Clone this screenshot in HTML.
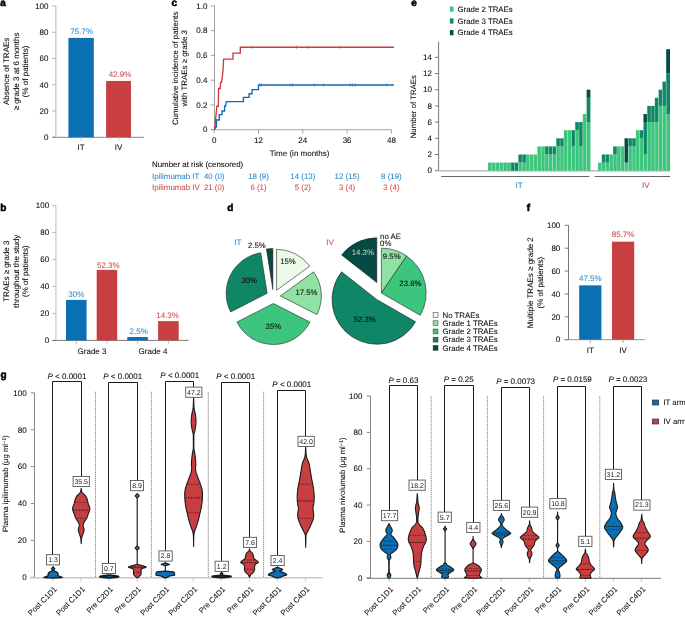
<!DOCTYPE html>
<html><head><meta charset="utf-8"><style>
html,body{margin:0;padding:0;background:#fff;}
svg{display:block;font-family:"Liberation Sans", sans-serif;will-change:transform;filter:blur(0.3px);text-rendering:geometricPrecision;}
</style></head><body>
<svg width="685" height="617" viewBox="0 0 685 617">
<text x="0.30" y="5.50" font-size="10" font-weight="bold" fill="#000" stroke="#000" stroke-width="0.55">a</text>
<text x="0.30" y="210.90" font-size="10" font-weight="bold" fill="#000" stroke="#000" stroke-width="0.55">b</text>
<text x="171.40" y="5.70" font-size="10" font-weight="bold" fill="#000" stroke="#000" stroke-width="0.55">c</text>
<text x="227.30" y="210.90" font-size="10" font-weight="bold" fill="#000" stroke="#000" stroke-width="0.55">d</text>
<text x="411.30" y="5.60" font-size="10" font-weight="bold" fill="#000" stroke="#000" stroke-width="0.55">e</text>
<text x="526.80" y="210.90" font-size="10" font-weight="bold" fill="#000" stroke="#000" stroke-width="0.55">f</text>
<text x="0.50" y="378.20" font-size="10" font-weight="bold" fill="#000" stroke="#000" stroke-width="0.55">g</text>
<line x1="55.90" y1="6.00" x2="55.90" y2="137.30" stroke="#a0a0a0" stroke-width="0.8" />
<line x1="52.20" y1="6.00" x2="55.90" y2="6.00" stroke="#a0a0a0" stroke-width="0.8" />
<text x="48.50" y="8.75" font-size="8" text-anchor="end" fill="#0a0a0a" stroke="#0a0a0a" stroke-width="0.07" >100</text>
<line x1="52.20" y1="32.26" x2="55.90" y2="32.26" stroke="#a0a0a0" stroke-width="0.8" />
<text x="48.50" y="35.01" font-size="8" text-anchor="end" fill="#0a0a0a" stroke="#0a0a0a" stroke-width="0.07" >80</text>
<line x1="52.20" y1="58.52" x2="55.90" y2="58.52" stroke="#a0a0a0" stroke-width="0.8" />
<text x="48.50" y="61.27" font-size="8" text-anchor="end" fill="#0a0a0a" stroke="#0a0a0a" stroke-width="0.07" >60</text>
<line x1="52.20" y1="84.78" x2="55.90" y2="84.78" stroke="#a0a0a0" stroke-width="0.8" />
<text x="48.50" y="87.53" font-size="8" text-anchor="end" fill="#0a0a0a" stroke="#0a0a0a" stroke-width="0.07" >40</text>
<line x1="52.20" y1="111.04" x2="55.90" y2="111.04" stroke="#a0a0a0" stroke-width="0.8" />
<text x="48.50" y="113.79" font-size="8" text-anchor="end" fill="#0a0a0a" stroke="#0a0a0a" stroke-width="0.07" >20</text>
<line x1="52.20" y1="137.30" x2="55.90" y2="137.30" stroke="#a0a0a0" stroke-width="0.8" />
<text x="48.50" y="140.05" font-size="8" text-anchor="end" fill="#0a0a0a" stroke="#0a0a0a" stroke-width="0.07" >0</text>
<line x1="52.20" y1="137.30" x2="143.90" y2="137.30" stroke="#7a7a7a" stroke-width="0.9" />
<rect x="68.40" y="37.91" width="25.40" height="99.39" fill="#0b6fb3" />
<rect x="106.10" y="80.97" width="24.90" height="56.33" fill="#c83e41" />
<line x1="81.10" y1="137.30" x2="81.10" y2="140.60" stroke="#bbb" stroke-width="0.8" />
<line x1="118.60" y1="137.30" x2="118.60" y2="140.60" stroke="#bbb" stroke-width="0.8" />
<text x="81.10" y="149.95" font-size="8" text-anchor="middle" fill="#0a0a0a" stroke="#0a0a0a" stroke-width="0.07" >IT</text>
<text x="118.60" y="149.95" font-size="8" text-anchor="middle" fill="#0a0a0a" stroke="#0a0a0a" stroke-width="0.07" >IV</text>
<text x="81.70" y="34.15" font-size="8" text-anchor="middle" fill="#2b8ccc" stroke="#2b8ccc" stroke-width="0.07" >75.7%</text>
<text x="120.00" y="77.35" font-size="8" text-anchor="middle" fill="#d04d4e" stroke="#d04d4e" stroke-width="0.07" >42.9%</text>
<g transform="translate(16.40,71.40) rotate(-90)">
<text x="0" y="-7.59" font-size="8" text-anchor="middle" fill="#0a0a0a" stroke="#0a0a0a" stroke-width="0.07">Absence of TRAEs</text>
<text x="0" y="2.11" font-size="8" text-anchor="middle" fill="#0a0a0a" stroke="#0a0a0a" stroke-width="0.07">≥ grade 3 at 6 months</text>
<text x="0" y="11.81" font-size="8" text-anchor="middle" fill="#0a0a0a" stroke="#0a0a0a" stroke-width="0.07">(% of patients)</text>
</g>
<line x1="55.90" y1="205.50" x2="55.90" y2="340.40" stroke="#b0b0b0" stroke-width="0.8" />
<line x1="52.20" y1="205.50" x2="55.90" y2="205.50" stroke="#b0b0b0" stroke-width="0.8" />
<text x="49.10" y="208.25" font-size="8" text-anchor="end" fill="#0a0a0a" stroke="#0a0a0a" stroke-width="0.07" >100</text>
<line x1="52.20" y1="232.48" x2="55.90" y2="232.48" stroke="#b0b0b0" stroke-width="0.8" />
<text x="49.10" y="235.23" font-size="8" text-anchor="end" fill="#0a0a0a" stroke="#0a0a0a" stroke-width="0.07" >80</text>
<line x1="52.20" y1="259.46" x2="55.90" y2="259.46" stroke="#b0b0b0" stroke-width="0.8" />
<text x="49.10" y="262.21" font-size="8" text-anchor="end" fill="#0a0a0a" stroke="#0a0a0a" stroke-width="0.07" >60</text>
<line x1="52.20" y1="286.44" x2="55.90" y2="286.44" stroke="#b0b0b0" stroke-width="0.8" />
<text x="49.10" y="289.19" font-size="8" text-anchor="end" fill="#0a0a0a" stroke="#0a0a0a" stroke-width="0.07" >40</text>
<line x1="52.20" y1="313.42" x2="55.90" y2="313.42" stroke="#b0b0b0" stroke-width="0.8" />
<text x="49.10" y="316.17" font-size="8" text-anchor="end" fill="#0a0a0a" stroke="#0a0a0a" stroke-width="0.07" >20</text>
<line x1="52.20" y1="340.40" x2="55.90" y2="340.40" stroke="#b0b0b0" stroke-width="0.8" />
<text x="49.10" y="343.15" font-size="8" text-anchor="end" fill="#0a0a0a" stroke="#0a0a0a" stroke-width="0.07" >0</text>
<line x1="52.20" y1="340.40" x2="188.60" y2="340.40" stroke="#6a6a6a" stroke-width="0.9" />
<rect x="66.00" y="299.93" width="20.60" height="40.47" fill="#0b6fb3" />
<line x1="76.30" y1="340.40" x2="76.30" y2="343.60" stroke="#999" stroke-width="0.8" />
<rect x="96.70" y="269.85" width="20.50" height="70.55" fill="#c83e41" />
<line x1="106.95" y1="340.40" x2="106.95" y2="343.60" stroke="#999" stroke-width="0.8" />
<rect x="127.30" y="337.03" width="20.60" height="3.37" fill="#0b6fb3" />
<line x1="137.60" y1="340.40" x2="137.60" y2="343.60" stroke="#999" stroke-width="0.8" />
<rect x="158.10" y="321.11" width="20.60" height="19.29" fill="#c83e41" />
<line x1="168.40" y1="340.40" x2="168.40" y2="343.60" stroke="#999" stroke-width="0.8" />
<text x="92.00" y="353.75" font-size="8" text-anchor="middle" fill="#0a0a0a" stroke="#0a0a0a" stroke-width="0.07" >Grade 3</text>
<text x="153.00" y="353.75" font-size="8" text-anchor="middle" fill="#0a0a0a" stroke="#0a0a0a" stroke-width="0.07" >Grade 4</text>
<text x="76.30" y="297.05" font-size="8" text-anchor="middle" fill="#2b8ccc" stroke="#2b8ccc" stroke-width="0.07" >30%</text>
<text x="108.30" y="267.75" font-size="8" text-anchor="middle" fill="#d04d4e" stroke="#d04d4e" stroke-width="0.07" >52.3%</text>
<text x="138.70" y="334.25" font-size="8" text-anchor="middle" fill="#2b8ccc" stroke="#2b8ccc" stroke-width="0.07" >2.5%</text>
<text x="167.60" y="318.05" font-size="8" text-anchor="middle" fill="#d04d4e" stroke="#d04d4e" stroke-width="0.07" >14.3%</text>
<g transform="translate(16.40,271.20) rotate(-90)">
<text x="0" y="-7.49" font-size="8" text-anchor="middle" fill="#0a0a0a" stroke="#0a0a0a" stroke-width="0.07">TRAEs ≥ grade 3</text>
<text x="0" y="2.11" font-size="8" text-anchor="middle" fill="#0a0a0a" stroke="#0a0a0a" stroke-width="0.07">throughout the study</text>
<text x="0" y="11.71" font-size="8" text-anchor="middle" fill="#0a0a0a" stroke="#0a0a0a" stroke-width="0.07">(% of patients)</text>
</g>
<line x1="214.50" y1="5.90" x2="214.50" y2="129.70" stroke="#8a8a8a" stroke-width="0.8" />
<line x1="210.80" y1="5.90" x2="214.50" y2="5.90" stroke="#8a8a8a" stroke-width="0.8" />
<text x="207.40" y="8.65" font-size="8" text-anchor="end" fill="#0a0a0a" stroke="#0a0a0a" stroke-width="0.07" >1.0</text>
<line x1="210.80" y1="30.66" x2="214.50" y2="30.66" stroke="#8a8a8a" stroke-width="0.8" />
<text x="207.40" y="33.41" font-size="8" text-anchor="end" fill="#0a0a0a" stroke="#0a0a0a" stroke-width="0.07" >0.8</text>
<line x1="210.80" y1="55.42" x2="214.50" y2="55.42" stroke="#8a8a8a" stroke-width="0.8" />
<text x="207.40" y="58.17" font-size="8" text-anchor="end" fill="#0a0a0a" stroke="#0a0a0a" stroke-width="0.07" >0.6</text>
<line x1="210.80" y1="80.18" x2="214.50" y2="80.18" stroke="#8a8a8a" stroke-width="0.8" />
<text x="207.40" y="82.93" font-size="8" text-anchor="end" fill="#0a0a0a" stroke="#0a0a0a" stroke-width="0.07" >0.4</text>
<line x1="210.80" y1="104.94" x2="214.50" y2="104.94" stroke="#8a8a8a" stroke-width="0.8" />
<text x="207.40" y="107.69" font-size="8" text-anchor="end" fill="#0a0a0a" stroke="#0a0a0a" stroke-width="0.07" >0.2</text>
<line x1="210.80" y1="129.70" x2="214.50" y2="129.70" stroke="#8a8a8a" stroke-width="0.8" />
<text x="207.40" y="132.45" font-size="8" text-anchor="end" fill="#0a0a0a" stroke="#0a0a0a" stroke-width="0.07" >0</text>
<line x1="210.80" y1="129.70" x2="391.40" y2="129.70" stroke="#8a8a8a" stroke-width="0.8" />
<line x1="214.20" y1="129.70" x2="214.20" y2="133.40" stroke="#8a8a8a" stroke-width="0.8" />
<text x="214.20" y="143.35" font-size="8" text-anchor="middle" fill="#0a0a0a" stroke="#0a0a0a" stroke-width="0.07" >0</text>
<line x1="258.50" y1="129.70" x2="258.50" y2="133.40" stroke="#8a8a8a" stroke-width="0.8" />
<text x="258.50" y="143.35" font-size="8" text-anchor="middle" fill="#0a0a0a" stroke="#0a0a0a" stroke-width="0.07" >12</text>
<line x1="302.80" y1="129.70" x2="302.80" y2="133.40" stroke="#8a8a8a" stroke-width="0.8" />
<text x="302.80" y="143.35" font-size="8" text-anchor="middle" fill="#0a0a0a" stroke="#0a0a0a" stroke-width="0.07" >24</text>
<line x1="347.10" y1="129.70" x2="347.10" y2="133.40" stroke="#8a8a8a" stroke-width="0.8" />
<text x="347.10" y="143.35" font-size="8" text-anchor="middle" fill="#0a0a0a" stroke="#0a0a0a" stroke-width="0.07" >36</text>
<line x1="391.40" y1="129.70" x2="391.40" y2="133.40" stroke="#8a8a8a" stroke-width="0.8" />
<text x="391.40" y="143.35" font-size="8" text-anchor="middle" fill="#0a0a0a" stroke="#0a0a0a" stroke-width="0.07" >48</text>
<text x="299.60" y="156.05" font-size="8" text-anchor="middle" fill="#0a0a0a" stroke="#0a0a0a" stroke-width="0.07" >Time (in months)</text>
<g transform="translate(180.40,68.30) rotate(-90)">
<text x="0" y="-2.81" font-size="7.9" text-anchor="middle" fill="#0a0a0a" stroke="#0a0a0a" stroke-width="0.07">Cumulative incidence of patients</text>
<text x="0" y="6.99" font-size="7.9" text-anchor="middle" fill="#0a0a0a" stroke="#0a0a0a" stroke-width="0.07">with TRAEs ≥ grade 3</text>
</g>
<polyline fill="none" stroke="#cc3a40" stroke-width="1.35" stroke-linejoin="miter" points="214.60,129.60 216.90,106.20 218.30,106.20 218.60,88.50 220.20,88.50 220.50,82.40 221.60,82.40 223.00,70.80 223.60,59.10 233.00,59.10 233.00,53.10 240.30,53.10 240.30,47.20 394.00,47.20"/>
<polyline fill="none" stroke="#1467b3" stroke-width="1.35" stroke-linejoin="miter" points="214.60,129.60 215.60,127.00 216.40,127.00 216.40,120.00 219.20,120.00 219.20,114.60 222.00,114.60 222.00,111.00 224.60,111.00 224.60,106.00 225.60,106.00 226.30,101.60 243.40,101.60 243.40,97.40 249.10,97.40 249.10,93.70 252.00,93.70 252.00,89.60 258.50,89.60 258.50,85.00 394.00,85.00"/>
<line x1="251.70" y1="45.60" x2="251.70" y2="48.80" stroke="#cc3a40" stroke-width="0.6" />
<line x1="296.50" y1="45.60" x2="296.50" y2="48.80" stroke="#cc3a40" stroke-width="0.6" />
<line x1="307.80" y1="45.60" x2="307.80" y2="48.80" stroke="#cc3a40" stroke-width="0.6" />
<line x1="339.30" y1="45.60" x2="339.30" y2="48.80" stroke="#cc3a40" stroke-width="0.6" />
<line x1="259.90" y1="83.40" x2="259.90" y2="86.60" stroke="#1467b3" stroke-width="0.6" />
<line x1="261.50" y1="83.40" x2="261.50" y2="86.60" stroke="#1467b3" stroke-width="0.6" />
<line x1="290.20" y1="83.40" x2="290.20" y2="86.60" stroke="#1467b3" stroke-width="0.6" />
<line x1="292.60" y1="83.40" x2="292.60" y2="86.60" stroke="#1467b3" stroke-width="0.6" />
<line x1="314.30" y1="83.40" x2="314.30" y2="86.60" stroke="#1467b3" stroke-width="0.6" />
<line x1="323.40" y1="83.40" x2="323.40" y2="86.60" stroke="#1467b3" stroke-width="0.6" />
<line x1="350.30" y1="83.40" x2="350.30" y2="86.60" stroke="#1467b3" stroke-width="0.6" />
<line x1="352.60" y1="83.40" x2="352.60" y2="86.60" stroke="#1467b3" stroke-width="0.6" />
<line x1="355.20" y1="83.40" x2="355.20" y2="86.60" stroke="#1467b3" stroke-width="0.6" />
<line x1="386.70" y1="83.40" x2="386.70" y2="86.60" stroke="#1467b3" stroke-width="0.6" />
<text x="152.00" y="167.42" font-size="7.9" text-anchor="start" fill="#0a0a0a" stroke="#0a0a0a" stroke-width="0.07" >Number at risk (censored)</text>
<text x="152.00" y="178.62" font-size="7.9" text-anchor="start" fill="#2b8ccc" stroke="#2b8ccc" stroke-width="0.07" >Ipilimumab IT</text>
<text x="152.00" y="189.52" font-size="7.9" text-anchor="start" fill="#d04d4e" stroke="#d04d4e" stroke-width="0.07" >Ipilimumab IV</text>
<text x="214.20" y="178.62" font-size="7.9" text-anchor="middle" fill="#2b8ccc" stroke="#2b8ccc" stroke-width="0.07" >40 (0)</text>
<text x="258.50" y="178.62" font-size="7.9" text-anchor="middle" fill="#2b8ccc" stroke="#2b8ccc" stroke-width="0.07" >18 (9)</text>
<text x="302.80" y="178.62" font-size="7.9" text-anchor="middle" fill="#2b8ccc" stroke="#2b8ccc" stroke-width="0.07" >14 (13)</text>
<text x="347.10" y="178.62" font-size="7.9" text-anchor="middle" fill="#2b8ccc" stroke="#2b8ccc" stroke-width="0.07" >12 (15)</text>
<text x="391.40" y="178.62" font-size="7.9" text-anchor="middle" fill="#2b8ccc" stroke="#2b8ccc" stroke-width="0.07" >8 (19)</text>
<text x="214.20" y="189.52" font-size="7.9" text-anchor="middle" fill="#d04d4e" stroke="#d04d4e" stroke-width="0.07" >21 (0)</text>
<text x="258.50" y="189.52" font-size="7.9" text-anchor="middle" fill="#d04d4e" stroke="#d04d4e" stroke-width="0.07" >6 (1)</text>
<text x="302.80" y="189.52" font-size="7.9" text-anchor="middle" fill="#d04d4e" stroke="#d04d4e" stroke-width="0.07" >5 (2)</text>
<text x="347.10" y="189.52" font-size="7.9" text-anchor="middle" fill="#d04d4e" stroke="#d04d4e" stroke-width="0.07" >3 (4)</text>
<text x="391.40" y="189.52" font-size="7.9" text-anchor="middle" fill="#d04d4e" stroke="#d04d4e" stroke-width="0.07" >3 (4)</text>
<rect x="449.90" y="6.50" width="3.60" height="5.20" fill="#3cc57d" />
<text x="457.50" y="11.80" font-size="7.85" text-anchor="start" fill="#0a0a0a" stroke="#0a0a0a" stroke-width="0.07" >Grade 2 TRAEs</text>
<rect x="449.90" y="18.40" width="3.60" height="5.20" fill="#0f8767" />
<text x="457.50" y="23.70" font-size="7.85" text-anchor="start" fill="#0a0a0a" stroke="#0a0a0a" stroke-width="0.07" >Grade 3 TRAEs</text>
<rect x="449.90" y="30.10" width="3.60" height="5.20" fill="#054a43" />
<text x="457.50" y="35.40" font-size="7.85" text-anchor="start" fill="#0a0a0a" stroke="#0a0a0a" stroke-width="0.07" >Grade 4 TRAEs</text>
<line x1="438.60" y1="41.60" x2="438.60" y2="170.70" stroke="#555" stroke-width="0.8" />
<line x1="435.00" y1="170.70" x2="438.60" y2="170.70" stroke="#555" stroke-width="0.8" />
<text x="432.00" y="173.45" font-size="8" text-anchor="end" fill="#0a0a0a" stroke="#0a0a0a" stroke-width="0.07" >0</text>
<line x1="435.00" y1="154.50" x2="438.60" y2="154.50" stroke="#555" stroke-width="0.8" />
<text x="432.00" y="157.25" font-size="8" text-anchor="end" fill="#0a0a0a" stroke="#0a0a0a" stroke-width="0.07" >2</text>
<line x1="435.00" y1="138.30" x2="438.60" y2="138.30" stroke="#555" stroke-width="0.8" />
<text x="432.00" y="141.05" font-size="8" text-anchor="end" fill="#0a0a0a" stroke="#0a0a0a" stroke-width="0.07" >4</text>
<line x1="435.00" y1="122.10" x2="438.60" y2="122.10" stroke="#555" stroke-width="0.8" />
<text x="432.00" y="124.85" font-size="8" text-anchor="end" fill="#0a0a0a" stroke="#0a0a0a" stroke-width="0.07" >6</text>
<line x1="435.00" y1="105.90" x2="438.60" y2="105.90" stroke="#555" stroke-width="0.8" />
<text x="432.00" y="108.65" font-size="8" text-anchor="end" fill="#0a0a0a" stroke="#0a0a0a" stroke-width="0.07" >8</text>
<line x1="435.00" y1="89.70" x2="438.60" y2="89.70" stroke="#555" stroke-width="0.8" />
<text x="432.00" y="92.45" font-size="8" text-anchor="end" fill="#0a0a0a" stroke="#0a0a0a" stroke-width="0.07" >10</text>
<line x1="435.00" y1="73.50" x2="438.60" y2="73.50" stroke="#555" stroke-width="0.8" />
<text x="432.00" y="76.25" font-size="8" text-anchor="end" fill="#0a0a0a" stroke="#0a0a0a" stroke-width="0.07" >12</text>
<line x1="435.00" y1="57.30" x2="438.60" y2="57.30" stroke="#555" stroke-width="0.8" />
<text x="432.00" y="60.05" font-size="8" text-anchor="end" fill="#0a0a0a" stroke="#0a0a0a" stroke-width="0.07" >14</text>
<g transform="translate(414.40,106.70) rotate(-90)">
<text x="0" y="2.06" font-size="7.8" text-anchor="middle" fill="#0a0a0a" stroke="#0a0a0a" stroke-width="0.07">Number of TRAEs</text>
</g>
<rect x="438.80" y="170.00" width="231.20" height="1.60" fill="#bdbdbd" />
<rect x="488.07" y="162.60" width="3.79" height="8.10" fill="#3cc57d" />
<rect x="491.86" y="162.60" width="3.79" height="8.10" fill="#3cc57d" />
<rect x="495.65" y="162.60" width="3.79" height="8.10" fill="#3cc57d" />
<rect x="499.44" y="162.60" width="3.79" height="8.10" fill="#3cc57d" />
<rect x="503.23" y="162.60" width="3.79" height="8.10" fill="#3cc57d" />
<rect x="507.02" y="162.60" width="3.79" height="8.10" fill="#3cc57d" />
<rect x="510.81" y="162.60" width="3.79" height="8.10" fill="#0f8767" />
<rect x="514.60" y="162.60" width="3.79" height="8.10" fill="#0f8767" />
<rect x="518.39" y="162.60" width="3.79" height="8.10" fill="#3cc57d" />
<rect x="518.39" y="154.50" width="3.79" height="8.10" fill="#0f8767" />
<rect x="522.18" y="162.60" width="3.79" height="8.10" fill="#3cc57d" />
<rect x="522.18" y="154.50" width="3.79" height="8.10" fill="#0f8767" />
<rect x="525.97" y="154.50" width="3.79" height="16.20" fill="#3cc57d" />
<rect x="529.76" y="154.50" width="3.79" height="16.20" fill="#3cc57d" />
<rect x="533.55" y="154.50" width="3.79" height="16.20" fill="#3cc57d" />
<rect x="537.34" y="146.40" width="3.79" height="24.30" fill="#3cc57d" />
<rect x="541.13" y="146.40" width="3.79" height="24.30" fill="#3cc57d" />
<rect x="544.92" y="154.50" width="3.79" height="16.20" fill="#3cc57d" />
<rect x="544.92" y="146.40" width="3.79" height="8.10" fill="#0f8767" />
<rect x="548.71" y="154.50" width="3.79" height="16.20" fill="#3cc57d" />
<rect x="548.71" y="146.40" width="3.79" height="8.10" fill="#0f8767" />
<rect x="552.50" y="154.50" width="3.79" height="16.20" fill="#3cc57d" />
<rect x="552.50" y="146.40" width="3.79" height="8.10" fill="#0f8767" />
<rect x="556.30" y="146.40" width="3.79" height="24.30" fill="#3cc57d" />
<rect x="556.30" y="138.30" width="3.79" height="8.10" fill="#0f8767" />
<rect x="560.09" y="146.40" width="3.79" height="24.30" fill="#3cc57d" />
<rect x="560.09" y="138.30" width="3.79" height="8.10" fill="#0f8767" />
<rect x="563.88" y="130.20" width="3.79" height="40.50" fill="#3cc57d" />
<rect x="567.67" y="130.20" width="3.79" height="40.50" fill="#3cc57d" />
<rect x="571.46" y="146.40" width="3.79" height="24.30" fill="#3cc57d" />
<rect x="571.46" y="130.20" width="3.79" height="16.20" fill="#0f8767" />
<rect x="575.25" y="130.20" width="3.79" height="40.50" fill="#3cc57d" />
<rect x="575.25" y="122.10" width="3.79" height="8.10" fill="#0f8767" />
<rect x="579.04" y="146.40" width="3.79" height="24.30" fill="#3cc57d" />
<rect x="579.04" y="122.10" width="3.79" height="24.30" fill="#0f8767" />
<rect x="582.83" y="114.00" width="3.79" height="56.70" fill="#3cc57d" />
<rect x="586.62" y="122.10" width="3.79" height="48.60" fill="#3cc57d" />
<rect x="586.62" y="97.80" width="3.79" height="24.30" fill="#0f8767" />
<rect x="586.62" y="89.70" width="3.79" height="8.10" fill="#054a43" />
<rect x="597.99" y="162.60" width="3.79" height="8.10" fill="#3cc57d" />
<rect x="601.78" y="162.60" width="3.79" height="8.10" fill="#3cc57d" />
<rect x="601.78" y="154.50" width="3.79" height="8.10" fill="#0f8767" />
<rect x="605.57" y="162.60" width="3.79" height="8.10" fill="#3cc57d" />
<rect x="605.57" y="154.50" width="3.79" height="8.10" fill="#0f8767" />
<rect x="609.36" y="154.50" width="3.79" height="16.20" fill="#3cc57d" />
<rect x="613.15" y="154.50" width="3.79" height="16.20" fill="#3cc57d" />
<rect x="613.15" y="146.40" width="3.79" height="8.10" fill="#0f8767" />
<rect x="616.94" y="146.40" width="3.79" height="24.30" fill="#3cc57d" />
<rect x="620.73" y="146.40" width="3.79" height="24.30" fill="#3cc57d" />
<rect x="624.52" y="162.60" width="3.79" height="8.10" fill="#3cc57d" />
<rect x="624.52" y="138.30" width="3.79" height="24.30" fill="#054a43" />
<rect x="628.31" y="146.40" width="3.79" height="24.30" fill="#3cc57d" />
<rect x="628.31" y="138.30" width="3.79" height="8.10" fill="#0f8767" />
<rect x="632.10" y="146.40" width="3.79" height="24.30" fill="#3cc57d" />
<rect x="632.10" y="138.30" width="3.79" height="8.10" fill="#0f8767" />
<rect x="635.89" y="130.20" width="3.79" height="40.50" fill="#3cc57d" />
<rect x="639.68" y="138.30" width="3.79" height="32.40" fill="#3cc57d" />
<rect x="639.68" y="130.20" width="3.79" height="8.10" fill="#0f8767" />
<rect x="643.47" y="154.50" width="3.79" height="16.20" fill="#3cc57d" />
<rect x="643.47" y="122.10" width="3.79" height="32.40" fill="#0f8767" />
<rect x="643.47" y="114.00" width="3.79" height="8.10" fill="#054a43" />
<rect x="647.26" y="122.10" width="3.79" height="48.60" fill="#3cc57d" />
<rect x="647.26" y="105.90" width="3.79" height="16.20" fill="#0f8767" />
<rect x="651.05" y="122.10" width="3.79" height="48.60" fill="#3cc57d" />
<rect x="651.05" y="105.90" width="3.79" height="16.20" fill="#0f8767" />
<rect x="654.84" y="122.10" width="3.79" height="48.60" fill="#3cc57d" />
<rect x="654.84" y="97.80" width="3.79" height="24.30" fill="#0f8767" />
<rect x="658.63" y="105.90" width="3.79" height="64.80" fill="#3cc57d" />
<rect x="658.63" y="89.70" width="3.79" height="16.20" fill="#0f8767" />
<rect x="662.42" y="105.90" width="3.79" height="64.80" fill="#3cc57d" />
<rect x="662.42" y="81.60" width="3.79" height="24.30" fill="#0f8767" />
<rect x="666.21" y="114.00" width="3.79" height="56.70" fill="#3cc57d" />
<rect x="666.21" y="73.50" width="3.79" height="40.50" fill="#0f8767" />
<rect x="666.21" y="49.20" width="3.79" height="24.30" fill="#054a43" />
<line x1="488.07" y1="170.70" x2="488.07" y2="170.70" stroke="#ffffff" stroke-width="0.45" stroke-opacity="0.6"/>
<line x1="491.86" y1="170.70" x2="491.86" y2="162.60" stroke="#ffffff" stroke-width="0.45" stroke-opacity="0.6"/>
<line x1="495.65" y1="170.70" x2="495.65" y2="162.60" stroke="#ffffff" stroke-width="0.45" stroke-opacity="0.6"/>
<line x1="499.44" y1="170.70" x2="499.44" y2="162.60" stroke="#ffffff" stroke-width="0.45" stroke-opacity="0.6"/>
<line x1="503.23" y1="170.70" x2="503.23" y2="162.60" stroke="#ffffff" stroke-width="0.45" stroke-opacity="0.6"/>
<line x1="507.02" y1="170.70" x2="507.02" y2="162.60" stroke="#ffffff" stroke-width="0.45" stroke-opacity="0.6"/>
<line x1="510.81" y1="170.70" x2="510.81" y2="162.60" stroke="#ffffff" stroke-width="0.45" stroke-opacity="0.6"/>
<line x1="514.60" y1="170.70" x2="514.60" y2="162.60" stroke="#ffffff" stroke-width="0.45" stroke-opacity="0.6"/>
<line x1="518.39" y1="170.70" x2="518.39" y2="162.60" stroke="#ffffff" stroke-width="0.45" stroke-opacity="0.6"/>
<line x1="522.18" y1="170.70" x2="522.18" y2="154.50" stroke="#ffffff" stroke-width="0.45" stroke-opacity="0.6"/>
<line x1="525.97" y1="170.70" x2="525.97" y2="154.50" stroke="#ffffff" stroke-width="0.45" stroke-opacity="0.6"/>
<line x1="529.76" y1="170.70" x2="529.76" y2="154.50" stroke="#ffffff" stroke-width="0.45" stroke-opacity="0.6"/>
<line x1="533.55" y1="170.70" x2="533.55" y2="154.50" stroke="#ffffff" stroke-width="0.45" stroke-opacity="0.6"/>
<line x1="537.34" y1="170.70" x2="537.34" y2="154.50" stroke="#ffffff" stroke-width="0.45" stroke-opacity="0.6"/>
<line x1="541.13" y1="170.70" x2="541.13" y2="146.40" stroke="#ffffff" stroke-width="0.45" stroke-opacity="0.6"/>
<line x1="544.92" y1="170.70" x2="544.92" y2="146.40" stroke="#ffffff" stroke-width="0.45" stroke-opacity="0.6"/>
<line x1="548.71" y1="170.70" x2="548.71" y2="146.40" stroke="#ffffff" stroke-width="0.45" stroke-opacity="0.6"/>
<line x1="552.50" y1="170.70" x2="552.50" y2="146.40" stroke="#ffffff" stroke-width="0.45" stroke-opacity="0.6"/>
<line x1="556.30" y1="170.70" x2="556.30" y2="146.40" stroke="#ffffff" stroke-width="0.45" stroke-opacity="0.6"/>
<line x1="560.09" y1="170.70" x2="560.09" y2="138.30" stroke="#ffffff" stroke-width="0.45" stroke-opacity="0.6"/>
<line x1="563.88" y1="170.70" x2="563.88" y2="138.30" stroke="#ffffff" stroke-width="0.45" stroke-opacity="0.6"/>
<line x1="567.67" y1="170.70" x2="567.67" y2="130.20" stroke="#ffffff" stroke-width="0.45" stroke-opacity="0.6"/>
<line x1="571.46" y1="170.70" x2="571.46" y2="130.20" stroke="#ffffff" stroke-width="0.45" stroke-opacity="0.6"/>
<line x1="575.25" y1="170.70" x2="575.25" y2="130.20" stroke="#ffffff" stroke-width="0.45" stroke-opacity="0.6"/>
<line x1="579.04" y1="170.70" x2="579.04" y2="122.10" stroke="#ffffff" stroke-width="0.45" stroke-opacity="0.6"/>
<line x1="582.83" y1="170.70" x2="582.83" y2="122.10" stroke="#ffffff" stroke-width="0.45" stroke-opacity="0.6"/>
<line x1="586.62" y1="170.70" x2="586.62" y2="114.00" stroke="#ffffff" stroke-width="0.45" stroke-opacity="0.6"/>
<line x1="590.41" y1="170.70" x2="590.41" y2="170.70" stroke="#ffffff" stroke-width="0.45" stroke-opacity="0.6"/>
<line x1="597.99" y1="170.70" x2="597.99" y2="170.70" stroke="#ffffff" stroke-width="0.45" stroke-opacity="0.6"/>
<line x1="601.78" y1="170.70" x2="601.78" y2="162.60" stroke="#ffffff" stroke-width="0.45" stroke-opacity="0.6"/>
<line x1="605.57" y1="170.70" x2="605.57" y2="154.50" stroke="#ffffff" stroke-width="0.45" stroke-opacity="0.6"/>
<line x1="609.36" y1="170.70" x2="609.36" y2="154.50" stroke="#ffffff" stroke-width="0.45" stroke-opacity="0.6"/>
<line x1="613.15" y1="170.70" x2="613.15" y2="154.50" stroke="#ffffff" stroke-width="0.45" stroke-opacity="0.6"/>
<line x1="616.94" y1="170.70" x2="616.94" y2="146.40" stroke="#ffffff" stroke-width="0.45" stroke-opacity="0.6"/>
<line x1="620.73" y1="170.70" x2="620.73" y2="146.40" stroke="#ffffff" stroke-width="0.45" stroke-opacity="0.6"/>
<line x1="624.52" y1="170.70" x2="624.52" y2="146.40" stroke="#ffffff" stroke-width="0.45" stroke-opacity="0.6"/>
<line x1="628.31" y1="170.70" x2="628.31" y2="138.30" stroke="#ffffff" stroke-width="0.45" stroke-opacity="0.6"/>
<line x1="632.10" y1="170.70" x2="632.10" y2="138.30" stroke="#ffffff" stroke-width="0.45" stroke-opacity="0.6"/>
<line x1="635.89" y1="170.70" x2="635.89" y2="138.30" stroke="#ffffff" stroke-width="0.45" stroke-opacity="0.6"/>
<line x1="639.68" y1="170.70" x2="639.68" y2="130.20" stroke="#ffffff" stroke-width="0.45" stroke-opacity="0.6"/>
<line x1="643.47" y1="170.70" x2="643.47" y2="130.20" stroke="#ffffff" stroke-width="0.45" stroke-opacity="0.6"/>
<line x1="647.26" y1="170.70" x2="647.26" y2="114.00" stroke="#ffffff" stroke-width="0.45" stroke-opacity="0.6"/>
<line x1="651.05" y1="170.70" x2="651.05" y2="105.90" stroke="#ffffff" stroke-width="0.45" stroke-opacity="0.6"/>
<line x1="654.84" y1="170.70" x2="654.84" y2="105.90" stroke="#ffffff" stroke-width="0.45" stroke-opacity="0.6"/>
<line x1="658.63" y1="170.70" x2="658.63" y2="97.80" stroke="#ffffff" stroke-width="0.45" stroke-opacity="0.6"/>
<line x1="662.42" y1="170.70" x2="662.42" y2="89.70" stroke="#ffffff" stroke-width="0.45" stroke-opacity="0.6"/>
<line x1="666.21" y1="170.70" x2="666.21" y2="81.60" stroke="#ffffff" stroke-width="0.45" stroke-opacity="0.6"/>
<line x1="441.20" y1="176.50" x2="589.30" y2="176.50" stroke="#555" stroke-width="0.9" />
<line x1="594.60" y1="176.50" x2="670.10" y2="176.50" stroke="#555" stroke-width="0.9" />
<text x="519.00" y="187.55" font-size="8" text-anchor="middle" fill="#2b8ccc" stroke="#2b8ccc" stroke-width="0.07" >IT</text>
<text x="645.90" y="187.55" font-size="8" text-anchor="middle" fill="#d04d4e" stroke="#d04d4e" stroke-width="0.07" >IV</text>
<path d="M276.58,290.26 L276.58,249.26 A41,41 0 0 1 309.75,266.16 Z" fill="#ebfbe7" stroke="#222" stroke-width="0.6" stroke-linejoin="round"/>
<path d="M280.38,295.95 L313.55,271.85 A41,41 0 0 1 316.91,314.56 Z" fill="#8fe1a4" stroke="#222" stroke-width="0.6" stroke-linejoin="round"/>
<path d="M273.40,303.50 L309.93,322.11 A41,41 0 0 1 236.87,322.11 Z" fill="#3cc57d" stroke="#222" stroke-width="0.6" stroke-linejoin="round"/>
<path d="M267.16,293.32 L230.63,311.94 A41,41 0 0 1 260.75,252.83 Z" fill="#0f8767" stroke="#222" stroke-width="0.6" stroke-linejoin="round"/>
<path d="M272.85,289.52 L266.44,249.03 A41,41 0 0 1 272.85,248.52 Z" fill="#054a43" stroke="#222" stroke-width="0.6" stroke-linejoin="round"/>
<path d="M381.40,293.00 L381.40,248.20 A44.8,44.8 0 0 1 406.58,255.95 Z" fill="#8fe1a4" stroke="#222" stroke-width="0.6" stroke-linejoin="round"/>
<path d="M381.40,293.00 L406.58,255.95 A44.8,44.8 0 0 1 420.24,315.33 Z" fill="#3cc57d" stroke="#222" stroke-width="0.6" stroke-linejoin="round"/>
<path d="M376.80,299.50 L415.64,321.83 A44.8,44.8 0 1 1 341.59,271.80 Z" fill="#0f8767" stroke="#222" stroke-width="0.6" stroke-linejoin="round"/>
<path d="M376.80,282.60 L341.59,254.90 A44.8,44.8 0 0 1 376.80,237.80 Z" fill="#054a43" stroke="#222" stroke-width="0.6" stroke-linejoin="round"/>
<text x="288.00" y="264.18" font-size="7.8" text-anchor="middle" fill="#0a0a0a" stroke="#0a0a0a" stroke-width="0.07" >15%</text>
<text x="306.50" y="295.28" font-size="7.8" text-anchor="middle" fill="#0a0a0a" stroke="#0a0a0a" stroke-width="0.07" >17.5%</text>
<text x="273.40" y="328.68" font-size="7.8" text-anchor="middle" fill="#0a0a0a" stroke="#0a0a0a" stroke-width="0.07" >35%</text>
<text x="249.20" y="282.68" font-size="7.8" text-anchor="middle" fill="#0a0a0a" stroke="#0a0a0a" stroke-width="0.07" >30%</text>
<text x="256.90" y="247.68" font-size="7.8" text-anchor="middle" fill="#0a0a0a" stroke="#0a0a0a" stroke-width="0.07" >2.5%</text>
<text x="237.90" y="244.95" font-size="8" text-anchor="middle" fill="#2b8ccc" stroke="#2b8ccc" stroke-width="0.07" >IT</text>
<text x="391.70" y="259.38" font-size="7.8" text-anchor="middle" fill="#0a0a0a" stroke="#0a0a0a" stroke-width="0.07" >9.5%</text>
<text x="410.40" y="286.18" font-size="7.8" text-anchor="middle" fill="#0a0a0a" stroke="#0a0a0a" stroke-width="0.07" >23.8%</text>
<text x="364.70" y="322.18" font-size="7.8" text-anchor="middle" fill="#0a0a0a" stroke="#0a0a0a" stroke-width="0.07" >52.3%</text>
<text x="362.80" y="254.58" font-size="7.8" text-anchor="middle" fill="#b5cdc7" stroke="#b5cdc7" stroke-width="0.07" >14.3%</text>
<text x="380.10" y="238.98" font-size="7.8" text-anchor="start" fill="#0a0a0a" stroke="#0a0a0a" stroke-width="0.07" >no AE</text>
<text x="380.10" y="246.28" font-size="7.8" text-anchor="start" fill="#0a0a0a" stroke="#0a0a0a" stroke-width="0.07" >0%</text>
<text x="330.10" y="245.25" font-size="8" text-anchor="middle" fill="#d04d4e" stroke="#d04d4e" stroke-width="0.07" >IV</text>
<rect x="433.10" y="312.60" width="4.90" height="4.90" fill="#ebfbe7" stroke="#333" stroke-width="0.5"/>
<text x="442.50" y="317.80" font-size="7.85" text-anchor="start" fill="#0a0a0a" stroke="#0a0a0a" stroke-width="0.07" >No TRAEs</text>
<rect x="433.10" y="320.80" width="4.90" height="4.90" fill="#8fe1a4" stroke="#333" stroke-width="0.5"/>
<text x="442.50" y="326.00" font-size="7.85" text-anchor="start" fill="#0a0a0a" stroke="#0a0a0a" stroke-width="0.07" >Grade 1 TRAEs</text>
<rect x="433.10" y="329.00" width="4.90" height="4.90" fill="#3cc57d" stroke="#333" stroke-width="0.5"/>
<text x="442.50" y="334.20" font-size="7.85" text-anchor="start" fill="#0a0a0a" stroke="#0a0a0a" stroke-width="0.07" >Grade 2 TRAEs</text>
<rect x="433.10" y="337.20" width="4.90" height="4.90" fill="#0f8767" stroke="#333" stroke-width="0.5"/>
<text x="442.50" y="342.40" font-size="7.85" text-anchor="start" fill="#0a0a0a" stroke="#0a0a0a" stroke-width="0.07" >Grade 3 TRAEs</text>
<rect x="433.10" y="345.40" width="4.90" height="4.90" fill="#054a43" stroke="#333" stroke-width="0.5"/>
<text x="442.50" y="350.60" font-size="7.85" text-anchor="start" fill="#0a0a0a" stroke="#0a0a0a" stroke-width="0.07" >Grade 4 TRAEs</text>
<line x1="568.50" y1="225.30" x2="568.50" y2="339.70" stroke="#555" stroke-width="0.8" />
<line x1="564.80" y1="225.30" x2="568.50" y2="225.30" stroke="#555" stroke-width="0.8" />
<text x="560.30" y="228.05" font-size="8" text-anchor="end" fill="#0a0a0a" stroke="#0a0a0a" stroke-width="0.07" >100</text>
<line x1="564.80" y1="248.18" x2="568.50" y2="248.18" stroke="#555" stroke-width="0.8" />
<text x="560.30" y="250.93" font-size="8" text-anchor="end" fill="#0a0a0a" stroke="#0a0a0a" stroke-width="0.07" >80</text>
<line x1="564.80" y1="271.06" x2="568.50" y2="271.06" stroke="#555" stroke-width="0.8" />
<text x="560.30" y="273.81" font-size="8" text-anchor="end" fill="#0a0a0a" stroke="#0a0a0a" stroke-width="0.07" >60</text>
<line x1="564.80" y1="293.94" x2="568.50" y2="293.94" stroke="#555" stroke-width="0.8" />
<text x="560.30" y="296.69" font-size="8" text-anchor="end" fill="#0a0a0a" stroke="#0a0a0a" stroke-width="0.07" >40</text>
<line x1="564.80" y1="316.82" x2="568.50" y2="316.82" stroke="#555" stroke-width="0.8" />
<text x="560.30" y="319.57" font-size="8" text-anchor="end" fill="#0a0a0a" stroke="#0a0a0a" stroke-width="0.07" >20</text>
<line x1="564.80" y1="339.70" x2="568.50" y2="339.70" stroke="#555" stroke-width="0.8" />
<text x="560.30" y="342.45" font-size="8" text-anchor="end" fill="#0a0a0a" stroke="#0a0a0a" stroke-width="0.07" >0</text>
<line x1="564.30" y1="339.70" x2="645.00" y2="339.70" stroke="#8a8a8a" stroke-width="0.9" />
<rect x="579.20" y="285.36" width="22.20" height="54.34" fill="#0b6fb3" />
<rect x="612.00" y="241.66" width="22.20" height="98.04" fill="#c83e41" />
<line x1="590.30" y1="339.70" x2="590.30" y2="343.00" stroke="#999" stroke-width="0.8" />
<line x1="623.10" y1="339.70" x2="623.10" y2="343.00" stroke="#999" stroke-width="0.8" />
<text x="590.30" y="353.45" font-size="8" text-anchor="middle" fill="#0a0a0a" stroke="#0a0a0a" stroke-width="0.07" >IT</text>
<text x="623.10" y="353.45" font-size="8" text-anchor="middle" fill="#0a0a0a" stroke="#0a0a0a" stroke-width="0.07" >IV</text>
<text x="590.30" y="280.65" font-size="8" text-anchor="middle" fill="#2b8ccc" stroke="#2b8ccc" stroke-width="0.07" >47.5%</text>
<text x="623.10" y="237.05" font-size="8" text-anchor="middle" fill="#d04d4e" stroke="#d04d4e" stroke-width="0.07" >85.7%</text>
<g transform="translate(535.50,282.70) rotate(-90)">
<text x="0" y="-2.89" font-size="8" text-anchor="middle" fill="#0a0a0a" stroke="#0a0a0a" stroke-width="0.07">Multiple TRAEs ≥ grade 2</text>
<text x="0" y="7.11" font-size="8" text-anchor="middle" fill="#0a0a0a" stroke="#0a0a0a" stroke-width="0.07">(% of patients)</text>
</g>
<line x1="34.50" y1="392.90" x2="34.50" y2="577.30" stroke="#888" stroke-width="1" />
<line x1="30.80" y1="392.90" x2="34.50" y2="392.90" stroke="#888" stroke-width="1" />
<text x="26.60" y="395.65" font-size="8" text-anchor="end" fill="#0a0a0a" stroke="#0a0a0a" stroke-width="0.07" >100</text>
<line x1="30.80" y1="429.78" x2="34.50" y2="429.78" stroke="#888" stroke-width="1" />
<text x="26.60" y="432.53" font-size="8" text-anchor="end" fill="#0a0a0a" stroke="#0a0a0a" stroke-width="0.07" >80</text>
<line x1="30.80" y1="466.66" x2="34.50" y2="466.66" stroke="#888" stroke-width="1" />
<text x="26.60" y="469.41" font-size="8" text-anchor="end" fill="#0a0a0a" stroke="#0a0a0a" stroke-width="0.07" >60</text>
<line x1="30.80" y1="503.54" x2="34.50" y2="503.54" stroke="#888" stroke-width="1" />
<text x="26.60" y="506.29" font-size="8" text-anchor="end" fill="#0a0a0a" stroke="#0a0a0a" stroke-width="0.07" >40</text>
<line x1="30.80" y1="540.42" x2="34.50" y2="540.42" stroke="#888" stroke-width="1" />
<text x="26.60" y="543.17" font-size="8" text-anchor="end" fill="#0a0a0a" stroke="#0a0a0a" stroke-width="0.07" >20</text>
<line x1="30.80" y1="577.30" x2="34.50" y2="577.30" stroke="#888" stroke-width="1" />
<text x="26.60" y="580.05" font-size="8" text-anchor="end" fill="#0a0a0a" stroke="#0a0a0a" stroke-width="0.07" >0</text>
<line x1="29.80" y1="577.80" x2="322.60" y2="577.80" stroke="#c8c8c8" stroke-width="1.5" />
<line x1="52.86" y1="578.50" x2="52.86" y2="581.60" stroke="#bbb" stroke-width="0.8" />
<line x1="80.94" y1="578.50" x2="80.94" y2="581.60" stroke="#bbb" stroke-width="0.8" />
<line x1="109.03" y1="578.50" x2="109.03" y2="581.60" stroke="#bbb" stroke-width="0.8" />
<line x1="137.11" y1="578.50" x2="137.11" y2="581.60" stroke="#bbb" stroke-width="0.8" />
<line x1="165.19" y1="578.50" x2="165.19" y2="581.60" stroke="#bbb" stroke-width="0.8" />
<line x1="193.27" y1="578.50" x2="193.27" y2="581.60" stroke="#bbb" stroke-width="0.8" />
<line x1="221.36" y1="578.50" x2="221.36" y2="581.60" stroke="#bbb" stroke-width="0.8" />
<line x1="249.44" y1="578.50" x2="249.44" y2="581.60" stroke="#bbb" stroke-width="0.8" />
<line x1="277.52" y1="578.50" x2="277.52" y2="581.60" stroke="#bbb" stroke-width="0.8" />
<line x1="305.61" y1="578.50" x2="305.61" y2="581.60" stroke="#bbb" stroke-width="0.8" />
<line x1="95.50" y1="391.80" x2="95.50" y2="577.00" stroke="#333" stroke-width="0.8" stroke-dasharray="0.9,1.1"/>
<line x1="151.40" y1="391.80" x2="151.40" y2="577.00" stroke="#333" stroke-width="0.8" stroke-dasharray="0.9,1.1"/>
<line x1="208.30" y1="391.80" x2="208.30" y2="577.00" stroke="#333" stroke-width="0.8" stroke-dasharray="0.9,1.1"/>
<line x1="263.60" y1="391.80" x2="263.60" y2="577.00" stroke="#333" stroke-width="0.8" stroke-dasharray="0.9,1.1"/>
<polyline fill="none" stroke="#1a1a1a" stroke-width="1" points="52.50,554.50 52.50,381.50 81.50,381.50 81.50,476.70"/>
<text x="67.00" y="379.05" font-size="8" text-anchor="middle" fill="#0a0a0a" stroke="#0a0a0a" stroke-width="0.07" ><tspan font-style="italic">P</tspan> &lt; 0.0001</text>
<polyline fill="none" stroke="#1a1a1a" stroke-width="1" points="108.50,563.30 108.50,382.50 137.50,382.50 137.50,480.80"/>
<text x="122.75" y="379.05" font-size="8" text-anchor="middle" fill="#0a0a0a" stroke="#0a0a0a" stroke-width="0.07" ><tspan font-style="italic">P</tspan> &lt; 0.0001</text>
<polyline fill="none" stroke="#1a1a1a" stroke-width="1" points="165.50,550.80 165.50,381.50 193.50,381.50 193.50,387.10"/>
<text x="179.80" y="378.35" font-size="8" text-anchor="middle" fill="#0a0a0a" stroke="#0a0a0a" stroke-width="0.07" ><tspan font-style="italic">P</tspan> &lt; 0.0001</text>
<polyline fill="none" stroke="#1a1a1a" stroke-width="1" points="221.50,561.10 221.50,382.50 249.50,382.50 249.50,537.10"/>
<text x="235.75" y="379.15" font-size="8" text-anchor="middle" fill="#0a0a0a" stroke="#0a0a0a" stroke-width="0.07" ><tspan font-style="italic">P</tspan> &lt; 0.0001</text>
<polyline fill="none" stroke="#1a1a1a" stroke-width="1" points="277.50,555.20 277.50,390.50 305.50,390.50 305.50,436.20"/>
<text x="291.80" y="387.45" font-size="8" text-anchor="middle" fill="#0a0a0a" stroke="#0a0a0a" stroke-width="0.07" ><tspan font-style="italic">P</tspan> &lt; 0.0001</text>
<line x1="53.10" y1="566.20" x2="53.10" y2="570.80" stroke="#111" stroke-width="1.1" />
<polygon points="53.10,567.00 53.20,567.09 53.35,567.21 53.52,567.35 53.70,567.50 53.88,567.66 54.04,567.80 54.19,567.93 54.36,568.07 54.52,568.20 54.66,568.33 54.76,568.47 54.80,568.60 54.76,568.73 54.66,568.87 54.52,569.00 54.36,569.13 54.19,569.27 54.04,569.40 53.88,569.54 53.70,569.70 53.52,569.85 53.35,569.99 53.20,570.11 53.10,570.20 53.10,570.20 53.00,570.11 52.85,569.99 52.68,569.85 52.50,569.70 52.32,569.54 52.16,569.40 52.01,569.27 51.84,569.13 51.68,569.00 51.54,568.87 51.44,568.73 51.40,568.60 51.44,568.47 51.54,568.33 51.68,568.20 51.84,568.07 52.01,567.93 52.16,567.80 52.32,567.66 52.50,567.50 52.68,567.35 52.85,567.21 53.00,567.09 53.10,567.00" fill="#0b6fb3" stroke="#1a1a1a" stroke-width="1.1" stroke-linejoin="round"/>
<polygon points="53.10,570.30 53.15,570.32 53.20,570.35 53.27,570.38 53.37,570.43 53.51,570.50 53.70,570.60 53.97,570.73 54.30,570.90 54.67,571.09 55.06,571.29 55.44,571.50 55.80,571.70 56.15,571.90 56.51,572.11 56.86,572.33 57.19,572.54 57.48,572.77 57.70,573.00 57.84,573.24 57.91,573.50 57.94,573.76 57.95,574.01 57.96,574.27 58.00,574.50 58.04,574.72 58.06,574.93 58.08,575.12 58.12,575.32 58.22,575.51 58.40,575.70 58.69,575.89 59.07,576.09 59.51,576.28 59.95,576.46 60.36,576.64 60.70,576.80 61.07,576.96 61.52,577.10 61.94,577.24 62.20,577.37 62.20,577.49 61.80,577.60 60.82,577.69 59.30,577.78 57.52,577.85 55.72,577.91 54.16,577.96 53.10,578.00 53.10,578.00 52.04,577.96 50.48,577.91 48.68,577.85 46.90,577.78 45.38,577.69 44.40,577.60 44.00,577.49 44.00,577.37 44.26,577.24 44.68,577.10 45.13,576.96 45.50,576.80 45.84,576.64 46.25,576.46 46.69,576.28 47.13,576.09 47.51,575.89 47.80,575.70 47.98,575.51 48.08,575.32 48.12,575.12 48.14,574.93 48.16,574.72 48.20,574.50 48.24,574.27 48.25,574.01 48.26,573.76 48.29,573.50 48.36,573.24 48.50,573.00 48.72,572.77 49.01,572.54 49.34,572.33 49.69,572.11 50.05,571.90 50.40,571.70 50.76,571.50 51.14,571.29 51.53,571.09 51.90,570.90 52.23,570.73 52.50,570.60 52.69,570.50 52.83,570.43 52.93,570.38 53.00,570.35 53.05,570.32 53.10,570.30" fill="#0b6fb3" stroke="#1a1a1a" stroke-width="1.35" stroke-linejoin="round"/>
<polygon points="81.20,488.40 81.24,488.63 81.29,488.94 81.36,489.31 81.43,489.71 81.51,490.12 81.60,490.50 81.67,490.85 81.72,491.19 81.78,491.53 81.87,491.89 82.04,492.27 82.30,492.70 82.71,493.18 83.24,493.69 83.84,494.24 84.46,494.80 85.03,495.36 85.50,495.90 85.87,496.42 86.17,496.93 86.43,497.43 86.66,497.95 86.88,498.50 87.10,499.10 87.31,499.74 87.49,500.41 87.65,501.11 87.81,501.84 87.99,502.61 88.20,503.40 88.47,504.24 88.81,505.12 89.17,506.04 89.49,506.97 89.71,507.89 89.80,508.80 89.72,509.70 89.50,510.61 89.20,511.52 88.85,512.41 88.50,513.28 88.20,514.10 87.94,514.89 87.69,515.65 87.44,516.38 87.18,517.09 86.90,517.76 86.60,518.40 86.26,519.00 85.88,519.54 85.48,520.06 85.09,520.57 84.72,521.07 84.40,521.60 84.11,522.15 83.83,522.72 83.58,523.29 83.36,523.85 83.20,524.39 83.10,524.90 83.09,525.37 83.17,525.81 83.29,526.24 83.44,526.65 83.59,527.07 83.70,527.50 83.80,527.93 83.91,528.33 84.02,528.74 84.10,529.18 84.13,529.66 84.10,530.20 83.98,530.84 83.79,531.56 83.54,532.32 83.28,533.09 83.02,533.83 82.80,534.50 82.59,535.11 82.39,535.70 82.18,536.26 81.99,536.78 81.83,537.26 81.70,537.70 81.62,538.05 81.57,538.32 81.55,538.54 81.54,538.78 81.53,539.08 81.50,539.50 81.45,540.10 81.40,540.85 81.34,541.66 81.28,542.45 81.23,543.13 81.20,543.60 81.20,543.60 81.17,543.13 81.12,542.45 81.06,541.66 81.00,540.85 80.95,540.10 80.90,539.50 80.87,539.08 80.86,538.78 80.85,538.54 80.83,538.32 80.78,538.05 80.70,537.70 80.57,537.26 80.41,536.78 80.22,536.26 80.01,535.70 79.81,535.11 79.60,534.50 79.38,533.83 79.12,533.09 78.86,532.32 78.61,531.56 78.42,530.84 78.30,530.20 78.27,529.66 78.30,529.18 78.38,528.74 78.49,528.33 78.60,527.93 78.70,527.50 78.81,527.07 78.96,526.65 79.11,526.24 79.23,525.81 79.31,525.37 79.30,524.90 79.20,524.39 79.04,523.85 78.83,523.29 78.57,522.72 78.29,522.15 78.00,521.60 77.68,521.07 77.31,520.57 76.92,520.06 76.52,519.54 76.14,519.00 75.80,518.40 75.50,517.76 75.22,517.09 74.96,516.38 74.71,515.65 74.46,514.89 74.20,514.10 73.90,513.28 73.55,512.41 73.20,511.52 72.90,510.61 72.68,509.70 72.60,508.80 72.69,507.89 72.91,506.97 73.23,506.04 73.59,505.12 73.93,504.24 74.20,503.40 74.41,502.61 74.59,501.84 74.75,501.11 74.91,500.41 75.09,499.74 75.30,499.10 75.52,498.50 75.74,497.95 75.97,497.43 76.23,496.93 76.53,496.42 76.90,495.90 77.37,495.36 77.94,494.80 78.56,494.24 79.16,493.69 79.69,493.18 80.10,492.70 80.36,492.27 80.53,491.89 80.62,491.53 80.68,491.19 80.73,490.85 80.80,490.50 80.89,490.12 80.97,489.71 81.04,489.31 81.11,488.94 81.16,488.63 81.20,488.40" fill="#c83e41" stroke="#1a1a1a" stroke-width="1.1" stroke-linejoin="round"/>
<line x1="75.05" y1="502.40" x2="87.35" y2="502.40" stroke="#1a1a1a" stroke-width="0.7" stroke-dasharray="0.9,0.9"/>
<line x1="73.40" y1="510.20" x2="89.00" y2="510.20" stroke="#1a1a1a" stroke-width="0.9" stroke-dasharray="1.6,1"/>
<line x1="76.40" y1="518.40" x2="86.00" y2="518.40" stroke="#1a1a1a" stroke-width="0.7" stroke-dasharray="0.9,0.9"/>
<polygon points="109.20,575.10 109.70,575.16 110.39,575.25 111.20,575.36 112.07,575.47 112.93,575.59 113.70,575.70 114.43,575.81 115.20,575.94 115.94,576.06 116.64,576.19 117.24,576.30 117.70,576.40 118.04,576.48 118.29,576.55 118.44,576.61 118.50,576.67 118.45,576.73 118.30,576.80 118.03,576.88 117.65,576.96 117.16,577.04 116.59,577.12 115.93,577.21 115.20,577.30 114.30,577.40 113.19,577.51 112.01,577.63 110.86,577.74 109.89,577.83 109.20,577.90 109.20,577.90 108.51,577.83 107.54,577.74 106.39,577.63 105.21,577.51 104.10,577.40 103.20,577.30 102.47,577.21 101.81,577.12 101.24,577.04 100.75,576.96 100.37,576.88 100.10,576.80 99.95,576.73 99.90,576.67 99.96,576.61 100.11,576.55 100.36,576.48 100.70,576.40 101.16,576.30 101.76,576.19 102.46,576.06 103.20,575.94 103.97,575.81 104.70,575.70 105.47,575.59 106.33,575.47 107.20,575.36 108.01,575.25 108.70,575.16 109.20,575.10" fill="#0b6fb3" stroke="#1a1a1a" stroke-width="1.9" stroke-linejoin="round"/>
<line x1="137.20" y1="494.00" x2="137.20" y2="564.50" stroke="#111" stroke-width="1.1" />
<polygon points="137.20,493.60 137.32,493.72 137.49,493.89 137.69,494.08 137.91,494.29 138.12,494.50 138.30,494.70 138.48,494.88 138.68,495.07 138.88,495.25 139.04,495.43 139.16,495.62 139.20,495.80 139.16,495.98 139.04,496.17 138.88,496.35 138.68,496.53 138.48,496.72 138.30,496.90 138.12,497.10 137.91,497.31 137.69,497.52 137.49,497.71 137.32,497.88 137.20,498.00 137.20,498.00 137.08,497.88 136.91,497.71 136.71,497.52 136.49,497.31 136.28,497.10 136.10,496.90 135.92,496.72 135.72,496.53 135.52,496.35 135.36,496.17 135.24,495.98 135.20,495.80 135.24,495.62 135.36,495.43 135.52,495.25 135.72,495.07 135.92,494.88 136.10,494.70 136.28,494.50 136.49,494.29 136.71,494.08 136.91,493.89 137.08,493.72 137.20,493.60" fill="#c83e41" stroke="#1a1a1a" stroke-width="1.1" stroke-linejoin="round"/>
<polygon points="137.20,545.80 137.32,545.92 137.49,546.09 137.69,546.28 137.91,546.49 138.12,546.70 138.30,546.90 138.48,547.08 138.68,547.27 138.88,547.45 139.04,547.63 139.16,547.82 139.20,548.00 139.16,548.18 139.04,548.37 138.88,548.55 138.68,548.73 138.48,548.92 138.30,549.10 138.12,549.30 137.91,549.51 137.69,549.72 137.49,549.91 137.32,550.08 137.20,550.20 137.20,550.20 137.08,550.08 136.91,549.91 136.71,549.72 136.49,549.51 136.28,549.30 136.10,549.10 135.92,548.92 135.72,548.73 135.52,548.55 135.36,548.37 135.24,548.18 135.20,548.00 135.24,547.82 135.36,547.63 135.52,547.45 135.72,547.27 135.92,547.08 136.10,546.90 136.28,546.70 136.49,546.49 136.71,546.28 136.91,546.09 137.08,545.92 137.20,545.80" fill="#c83e41" stroke="#1a1a1a" stroke-width="1.1" stroke-linejoin="round"/>
<polygon points="137.30,564.10 137.39,564.15 137.50,564.21 137.63,564.29 137.81,564.38 138.07,564.48 138.40,564.60 138.84,564.73 139.36,564.88 139.95,565.04 140.59,565.21 141.24,565.40 141.90,565.60 142.66,565.83 143.55,566.08 144.47,566.34 145.29,566.61 145.91,566.87 146.20,567.10 146.08,567.31 145.63,567.49 144.98,567.67 144.23,567.84 143.53,568.02 143.00,568.20 142.61,568.39 142.27,568.57 141.96,568.75 141.70,568.94 141.48,569.16 141.30,569.40 141.18,569.68 141.11,569.98 141.09,570.31 141.10,570.64 141.10,570.98 141.10,571.30 141.09,571.62 141.09,571.95 141.10,572.27 141.11,572.60 141.11,572.91 141.10,573.20 141.09,573.47 141.09,573.73 141.08,573.98 141.06,574.21 141.00,574.45 140.90,574.70 140.75,574.95 140.56,575.21 140.33,575.47 140.09,575.72 139.84,575.97 139.60,576.20 139.35,576.42 139.09,576.64 138.82,576.86 138.56,577.06 138.31,577.24 138.10,577.40 137.92,577.54 137.75,577.67 137.61,577.77 137.48,577.87 137.38,577.94 137.30,578.00 137.30,578.00 137.22,577.94 137.12,577.87 136.99,577.77 136.85,577.67 136.68,577.54 136.50,577.40 136.29,577.24 136.04,577.06 135.78,576.86 135.51,576.64 135.25,576.42 135.00,576.20 134.76,575.97 134.51,575.72 134.27,575.47 134.04,575.21 133.85,574.95 133.70,574.70 133.60,574.45 133.54,574.21 133.52,573.98 133.51,573.73 133.51,573.47 133.50,573.20 133.49,572.91 133.49,572.60 133.50,572.27 133.51,571.95 133.51,571.62 133.50,571.30 133.50,570.98 133.50,570.64 133.51,570.31 133.49,569.98 133.42,569.68 133.30,569.40 133.12,569.16 132.90,568.94 132.64,568.75 132.33,568.57 131.99,568.39 131.60,568.20 131.07,568.02 130.37,567.84 129.62,567.67 128.97,567.49 128.52,567.31 128.40,567.10 128.69,566.87 129.31,566.61 130.13,566.34 131.05,566.08 131.94,565.83 132.70,565.60 133.36,565.40 134.01,565.21 134.65,565.04 135.24,564.88 135.76,564.73 136.20,564.60 136.53,564.48 136.79,564.38 136.97,564.29 137.10,564.21 137.21,564.15 137.30,564.10" fill="#c83e41" stroke="#1a1a1a" stroke-width="1.1" stroke-linejoin="round"/>
<line x1="129.69" y1="566.70" x2="144.91" y2="566.70" stroke="#1a1a1a" stroke-width="0.7" stroke-dasharray="0.9,0.9"/>
<line x1="129.97" y1="567.60" x2="144.63" y2="567.60" stroke="#1a1a1a" stroke-width="0.9" stroke-dasharray="1.6,1"/>
<line x1="134.10" y1="572.40" x2="140.50" y2="572.40" stroke="#1a1a1a" stroke-width="0.7" stroke-dasharray="0.9,0.9"/>
<line x1="165.30" y1="561.50" x2="165.30" y2="571.20" stroke="#111" stroke-width="1.1" />
<polygon points="165.30,563.10 165.56,563.17 165.91,563.27 166.34,563.38 166.79,563.51 167.22,563.63 167.61,563.75 167.99,563.86 168.41,563.97 168.82,564.08 169.17,564.18 169.41,564.29 169.50,564.40 169.41,564.51 169.17,564.62 168.82,564.72 168.41,564.83 167.99,564.94 167.61,565.05 167.22,565.17 166.79,565.29 166.34,565.42 165.91,565.53 165.56,565.63 165.30,565.70 165.30,565.70 165.04,565.63 164.69,565.53 164.26,565.42 163.81,565.29 163.38,565.17 162.99,565.05 162.61,564.94 162.19,564.83 161.78,564.72 161.43,564.62 161.19,564.51 161.10,564.40 161.19,564.29 161.43,564.18 161.78,564.08 162.19,563.97 162.61,563.86 162.99,563.75 163.38,563.63 163.81,563.51 164.26,563.38 164.69,563.27 165.04,563.17 165.30,563.10" fill="#0b6fb3" stroke="#1a1a1a" stroke-width="1.1" stroke-linejoin="round"/>
<polygon points="165.30,571.00 165.48,571.03 165.69,571.07 165.95,571.12 166.29,571.17 166.74,571.23 167.30,571.30 168.07,571.37 169.06,571.44 170.14,571.52 171.22,571.61 172.17,571.70 172.90,571.80 173.38,571.90 173.69,572.01 173.89,572.13 174.01,572.25 174.10,572.38 174.20,572.50 174.30,572.61 174.36,572.72 174.39,572.82 174.40,572.95 174.40,573.10 174.40,573.30 174.45,573.57 174.55,573.90 174.64,574.26 174.66,574.61 174.57,574.94 174.30,575.20 173.79,575.38 173.07,575.50 172.24,575.59 171.37,575.67 170.56,575.77 169.90,575.90 169.39,576.08 168.95,576.28 168.57,576.50 168.23,576.72 167.91,576.92 167.60,577.10 167.30,577.25 167.01,577.39 166.76,577.51 166.52,577.61 166.30,577.71 166.10,577.80 165.92,577.88 165.75,577.94 165.61,577.99 165.48,578.04 165.38,578.07 165.30,578.10 165.30,578.10 165.22,578.07 165.12,578.04 164.99,577.99 164.85,577.94 164.68,577.88 164.50,577.80 164.30,577.71 164.08,577.61 163.84,577.51 163.59,577.39 163.30,577.25 163.00,577.10 162.69,576.92 162.37,576.72 162.03,576.50 161.65,576.28 161.21,576.08 160.70,575.90 160.04,575.77 159.23,575.67 158.36,575.59 157.53,575.50 156.81,575.38 156.30,575.20 156.03,574.94 155.94,574.61 155.96,574.26 156.05,573.90 156.15,573.57 156.20,573.30 156.20,573.10 156.20,572.95 156.21,572.82 156.24,572.72 156.30,572.61 156.40,572.50 156.50,572.38 156.59,572.25 156.71,572.13 156.91,572.01 157.22,571.90 157.70,571.80 158.43,571.70 159.38,571.61 160.46,571.52 161.54,571.44 162.53,571.37 163.30,571.30 163.86,571.23 164.31,571.17 164.65,571.12 164.91,571.07 165.12,571.03 165.30,571.00" fill="#0b6fb3" stroke="#1a1a1a" stroke-width="1.25" stroke-linejoin="round"/>
<polygon points="193.60,397.50 193.63,398.37 193.69,399.63 193.74,401.09 193.80,402.59 193.86,403.95 193.90,405.00 193.93,405.71 193.94,406.22 193.95,406.59 193.96,406.88 193.97,407.16 194.00,407.50 194.03,407.84 194.06,408.13 194.09,408.40 194.13,408.71 194.20,409.09 194.30,409.60 194.44,410.23 194.63,410.94 194.83,411.73 195.04,412.59 195.24,413.51 195.40,414.50 195.55,415.58 195.69,416.76 195.82,418.00 195.92,419.28 195.99,420.56 196.00,421.80 195.95,423.04 195.85,424.32 195.71,425.60 195.55,426.84 195.37,428.02 195.20,429.10 195.01,430.09 194.79,431.02 194.56,431.88 194.33,432.67 194.14,433.38 194.00,434.00 193.92,434.38 193.88,434.49 193.88,434.52 193.89,434.66 193.90,435.09 193.90,436.00 193.89,437.59 193.87,439.75 193.85,442.20 193.84,444.67 193.86,446.90 193.90,448.60 193.97,449.69 194.08,450.37 194.20,450.81 194.33,451.15 194.47,451.56 194.60,452.20 194.73,453.07 194.87,454.05 195.02,455.09 195.16,456.17 195.29,457.25 195.40,458.30 195.50,459.32 195.59,460.35 195.66,461.38 195.73,462.40 195.77,463.41 195.80,464.40 195.78,465.37 195.70,466.30 195.61,467.23 195.53,468.16 195.52,469.11 195.60,470.10 195.78,471.11 196.04,472.13 196.36,473.18 196.71,474.24 197.10,475.35 197.50,476.50 197.94,477.72 198.43,479.01 198.96,480.34 199.48,481.67 199.97,482.97 200.40,484.20 200.78,485.35 201.14,486.43 201.47,487.49 201.76,488.53 202.01,489.60 202.20,490.70 202.34,491.85 202.42,493.02 202.46,494.21 202.46,495.40 202.44,496.60 202.40,497.80 202.35,498.99 202.27,500.17 202.16,501.36 202.03,502.56 201.88,503.77 201.70,505.00 201.49,506.24 201.26,507.48 200.99,508.73 200.71,510.01 200.41,511.33 200.10,512.70 199.77,514.15 199.43,515.68 199.07,517.24 198.69,518.81 198.30,520.34 197.90,521.80 197.46,523.21 196.99,524.59 196.49,525.94 196.01,527.24 195.57,528.47 195.20,529.60 194.89,530.54 194.63,531.29 194.40,531.96 194.21,532.69 194.04,533.59 193.90,534.80 193.79,536.50 193.71,538.62 193.67,540.92 193.64,543.16 193.62,545.06 193.60,546.40 193.60,546.40 193.58,545.06 193.56,543.16 193.53,540.92 193.49,538.62 193.41,536.50 193.30,534.80 193.16,533.59 192.99,532.69 192.80,531.96 192.57,531.29 192.31,530.54 192.00,529.60 191.63,528.47 191.19,527.24 190.71,525.94 190.21,524.59 189.74,523.21 189.30,521.80 188.90,520.34 188.51,518.81 188.13,517.24 187.77,515.68 187.43,514.15 187.10,512.70 186.79,511.33 186.49,510.01 186.21,508.73 185.94,507.48 185.71,506.24 185.50,505.00 185.32,503.77 185.17,502.56 185.04,501.36 184.93,500.17 184.85,498.99 184.80,497.80 184.76,496.60 184.74,495.40 184.74,494.21 184.78,493.02 184.86,491.85 185.00,490.70 185.19,489.60 185.44,488.53 185.73,487.49 186.06,486.43 186.42,485.35 186.80,484.20 187.23,482.97 187.72,481.67 188.24,480.34 188.77,479.01 189.26,477.72 189.70,476.50 190.10,475.35 190.49,474.24 190.84,473.18 191.16,472.13 191.42,471.11 191.60,470.10 191.68,469.11 191.67,468.16 191.59,467.23 191.50,466.30 191.42,465.37 191.40,464.40 191.43,463.41 191.47,462.40 191.54,461.38 191.61,460.35 191.70,459.32 191.80,458.30 191.91,457.25 192.04,456.17 192.18,455.09 192.33,454.05 192.47,453.07 192.60,452.20 192.73,451.56 192.87,451.15 193.00,450.81 193.12,450.37 193.22,449.69 193.30,448.60 193.34,446.90 193.36,444.67 193.35,442.20 193.33,439.75 193.31,437.59 193.30,436.00 193.30,435.09 193.31,434.66 193.32,434.52 193.32,434.49 193.28,434.38 193.20,434.00 193.06,433.38 192.87,432.67 192.64,431.88 192.41,431.02 192.19,430.09 192.00,429.10 191.83,428.02 191.65,426.84 191.49,425.60 191.35,424.32 191.25,423.04 191.20,421.80 191.21,420.56 191.28,419.28 191.38,418.00 191.51,416.76 191.65,415.58 191.80,414.50 191.96,413.51 192.16,412.59 192.37,411.73 192.57,410.94 192.76,410.23 192.90,409.60 193.00,409.09 193.07,408.71 193.11,408.40 193.14,408.13 193.17,407.84 193.20,407.50 193.23,407.16 193.24,406.88 193.25,406.59 193.26,406.22 193.27,405.71 193.30,405.00 193.34,403.95 193.40,402.59 193.46,401.09 193.51,399.63 193.57,398.37 193.60,397.50" fill="#c83e41" stroke="#1a1a1a" stroke-width="1.1" stroke-linejoin="round"/>
<line x1="187.40" y1="484.20" x2="199.80" y2="484.20" stroke="#1a1a1a" stroke-width="0.7" stroke-dasharray="0.9,0.9"/>
<line x1="185.40" y1="497.80" x2="201.80" y2="497.80" stroke="#1a1a1a" stroke-width="0.9" stroke-dasharray="1.6,1"/>
<line x1="187.70" y1="512.70" x2="199.50" y2="512.70" stroke="#1a1a1a" stroke-width="0.7" stroke-dasharray="0.9,0.9"/>
<line x1="221.60" y1="571.50" x2="221.60" y2="575.80" stroke="#111" stroke-width="1.1" />
<polygon points="221.60,572.70 221.69,572.75 221.80,572.82 221.95,572.90 222.10,572.98 222.24,573.07 222.37,573.15 222.50,573.23 222.64,573.30 222.77,573.38 222.89,573.45 222.97,573.52 223.00,573.60 222.97,573.68 222.89,573.75 222.77,573.83 222.64,573.90 222.50,573.98 222.37,574.05 222.24,574.13 222.10,574.22 221.95,574.30 221.80,574.38 221.69,574.45 221.60,574.50 221.60,574.50 221.51,574.45 221.40,574.38 221.25,574.30 221.10,574.22 220.96,574.13 220.83,574.05 220.70,573.98 220.56,573.90 220.43,573.83 220.31,573.75 220.23,573.68 220.20,573.60 220.23,573.52 220.31,573.45 220.43,573.38 220.56,573.30 220.70,573.23 220.83,573.15 220.96,573.07 221.10,572.98 221.25,572.90 221.40,572.82 221.51,572.75 221.60,572.70" fill="#0b6fb3" stroke="#1a1a1a" stroke-width="1.1" stroke-linejoin="round"/>
<polygon points="221.60,575.20 222.09,575.27 222.76,575.36 223.55,575.46 224.41,575.58 225.28,575.69 226.10,575.80 226.96,575.90 227.94,576.00 228.92,576.10 229.81,576.20 230.51,576.30 230.90,576.40 230.98,576.50 230.83,576.60 230.49,576.70 229.98,576.80 229.34,576.90 228.60,577.00 227.62,577.11 226.36,577.22 224.96,577.34 223.59,577.44 222.42,577.53 221.60,577.60 221.60,577.60 220.78,577.53 219.61,577.44 218.24,577.34 216.84,577.22 215.58,577.11 214.60,577.00 213.86,576.90 213.22,576.80 212.71,576.70 212.37,576.60 212.22,576.50 212.30,576.40 212.69,576.30 213.39,576.20 214.28,576.10 215.26,576.00 216.24,575.90 217.10,575.80 217.92,575.69 218.79,575.58 219.65,575.46 220.44,575.36 221.11,575.27 221.60,575.20" fill="#0b6fb3" stroke="#1a1a1a" stroke-width="1.9" stroke-linejoin="round"/>
<polygon points="249.50,548.90 249.53,549.02 249.57,549.19 249.62,549.38 249.68,549.59 249.74,549.80 249.80,550.00 249.84,550.17 249.86,550.33 249.88,550.49 249.93,550.66 250.03,550.86 250.20,551.10 250.48,551.38 250.84,551.69 251.26,552.03 251.68,552.40 252.08,552.79 252.40,553.20 252.66,553.66 252.87,554.16 253.06,554.69 253.23,555.23 253.37,555.74 253.50,556.20 253.59,556.62 253.62,557.01 253.63,557.38 253.66,557.73 253.74,558.07 253.90,558.40 254.16,558.72 254.50,559.01 254.89,559.30 255.30,559.59 255.71,559.88 256.10,560.20 256.52,560.55 257.01,560.92 257.50,561.30 257.92,561.68 258.21,562.05 258.30,562.40 258.13,562.72 257.73,563.01 257.21,563.30 256.63,563.59 256.10,563.88 255.70,564.20 255.42,564.54 255.18,564.88 254.99,565.23 254.83,565.60 254.70,565.99 254.60,566.40 254.55,566.84 254.56,567.31 254.60,567.81 254.64,568.31 254.65,568.81 254.60,569.30 254.50,569.79 254.37,570.29 254.21,570.79 254.01,571.29 253.78,571.76 253.50,572.20 253.15,572.62 252.71,573.01 252.24,573.39 251.77,573.74 251.34,574.08 251.00,574.40 250.75,574.69 250.57,574.96 250.43,575.20 250.32,575.43 250.21,575.66 250.10,575.90 249.98,576.16 249.86,576.43 249.74,576.69 249.64,576.94 249.56,577.15 249.50,577.30 249.50,577.30 249.44,577.15 249.36,576.94 249.26,576.69 249.14,576.43 249.02,576.16 248.90,575.90 248.79,575.66 248.68,575.43 248.57,575.20 248.43,574.96 248.25,574.69 248.00,574.40 247.66,574.08 247.23,573.74 246.76,573.39 246.29,573.01 245.85,572.62 245.50,572.20 245.22,571.76 244.99,571.29 244.79,570.79 244.63,570.29 244.50,569.79 244.40,569.30 244.35,568.81 244.36,568.31 244.40,567.81 244.44,567.31 244.45,566.84 244.40,566.40 244.30,565.99 244.17,565.60 244.01,565.23 243.82,564.88 243.58,564.54 243.30,564.20 242.90,563.88 242.37,563.59 241.79,563.30 241.27,563.01 240.87,562.72 240.70,562.40 240.79,562.05 241.08,561.68 241.50,561.30 241.99,560.92 242.48,560.55 242.90,560.20 243.29,559.88 243.70,559.59 244.11,559.30 244.50,559.01 244.84,558.72 245.10,558.40 245.26,558.07 245.34,557.73 245.37,557.38 245.38,557.01 245.41,556.62 245.50,556.20 245.63,555.74 245.77,555.23 245.94,554.69 246.13,554.16 246.34,553.66 246.60,553.20 246.92,552.79 247.32,552.40 247.74,552.03 248.16,551.69 248.52,551.38 248.80,551.10 248.97,550.86 249.07,550.66 249.12,550.49 249.14,550.33 249.16,550.17 249.20,550.00 249.26,549.80 249.32,549.59 249.38,549.38 249.43,549.19 249.47,549.02 249.50,548.90" fill="#c83e41" stroke="#1a1a1a" stroke-width="1.1" stroke-linejoin="round"/>
<line x1="243.74" y1="560.00" x2="255.26" y2="560.00" stroke="#1a1a1a" stroke-width="0.7" stroke-dasharray="0.9,0.9"/>
<line x1="241.46" y1="562.70" x2="257.54" y2="562.70" stroke="#1a1a1a" stroke-width="0.9" stroke-dasharray="1.6,1"/>
<line x1="244.99" y1="569.20" x2="254.01" y2="569.20" stroke="#1a1a1a" stroke-width="0.7" stroke-dasharray="0.9,0.9"/>
<polygon points="277.50,566.90 277.58,566.95 277.68,567.02 277.81,567.11 277.95,567.20 278.12,567.30 278.30,567.40 278.49,567.50 278.70,567.60 278.93,567.70 279.18,567.81 279.47,567.95 279.80,568.10 280.24,568.28 280.80,568.50 281.40,568.73 281.95,568.96 282.38,569.19 282.60,569.40 282.57,569.60 282.34,569.79 281.99,569.98 281.59,570.16 281.20,570.34 280.90,570.50 280.64,570.65 280.35,570.79 280.08,570.91 279.87,571.04 279.76,571.16 279.80,571.30 280.02,571.44 280.39,571.58 280.86,571.72 281.39,571.87 281.92,572.03 282.40,572.20 282.86,572.38 283.34,572.57 283.82,572.76 284.29,572.97 284.72,573.18 285.10,573.40 285.48,573.64 285.87,573.89 286.23,574.16 286.51,574.42 286.65,574.67 286.60,574.90 286.31,575.11 285.80,575.29 285.16,575.47 284.46,575.64 283.78,575.82 283.20,576.00 282.71,576.20 282.26,576.41 281.82,576.62 281.40,576.83 280.96,577.02 280.50,577.20 279.98,577.37 279.41,577.53 278.83,577.68 278.29,577.81 277.83,577.92 277.50,578.00 277.50,578.00 277.17,577.92 276.71,577.81 276.17,577.68 275.59,577.53 275.02,577.37 274.50,577.20 274.04,577.02 273.60,576.83 273.18,576.62 272.74,576.41 272.29,576.20 271.80,576.00 271.22,575.82 270.54,575.64 269.84,575.47 269.20,575.29 268.69,575.11 268.40,574.90 268.35,574.67 268.49,574.42 268.77,574.16 269.13,573.89 269.52,573.64 269.90,573.40 270.28,573.18 270.71,572.97 271.18,572.76 271.66,572.57 272.14,572.38 272.60,572.20 273.08,572.03 273.61,571.87 274.14,571.72 274.61,571.58 274.98,571.44 275.20,571.30 275.24,571.16 275.13,571.04 274.92,570.91 274.65,570.79 274.36,570.65 274.10,570.50 273.80,570.34 273.41,570.16 273.01,569.98 272.66,569.79 272.43,569.60 272.40,569.40 272.62,569.19 273.05,568.96 273.60,568.73 274.20,568.50 274.76,568.28 275.20,568.10 275.53,567.95 275.82,567.81 276.07,567.70 276.30,567.60 276.51,567.50 276.70,567.40 276.88,567.30 277.05,567.20 277.19,567.11 277.32,567.02 277.42,566.95 277.50,566.90" fill="#0b6fb3" stroke="#1a1a1a" stroke-width="1.25" stroke-linejoin="round"/>
<polygon points="305.70,446.60 305.73,447.21 305.78,448.08 305.84,449.10 305.90,450.16 305.95,451.16 306.00,452.00 306.03,452.66 306.05,453.22 306.06,453.73 306.09,454.20 306.13,454.68 306.20,455.20 306.30,455.74 306.41,456.26 306.54,456.78 306.69,457.33 306.88,457.93 307.10,458.60 307.38,459.33 307.71,460.11 308.08,460.93 308.45,461.80 308.80,462.73 309.10,463.70 309.34,464.73 309.55,465.81 309.74,466.94 309.91,468.11 310.10,469.34 310.30,470.60 310.52,471.92 310.74,473.31 310.97,474.75 311.20,476.21 311.45,477.66 311.70,479.10 311.98,480.52 312.28,481.93 312.59,483.35 312.89,484.77 313.17,486.18 313.40,487.60 313.60,489.04 313.77,490.49 313.93,491.95 314.05,493.39 314.14,494.78 314.20,496.10 314.22,497.36 314.20,498.59 314.16,499.76 314.09,500.89 314.00,501.97 313.90,503.00 313.77,503.93 313.59,504.77 313.39,505.56 313.20,506.34 313.06,507.17 313.00,508.10 313.04,509.15 313.17,510.30 313.34,511.50 313.52,512.70 313.65,513.85 313.70,514.90 313.68,515.83 313.62,516.66 313.52,517.45 313.38,518.24 313.17,519.07 312.90,520.00 312.54,521.03 312.11,522.14 311.61,523.29 311.08,524.47 310.54,525.65 310.00,526.80 309.43,527.98 308.80,529.23 308.16,530.48 307.54,531.66 307.01,532.72 306.60,533.60 306.33,534.15 306.18,534.40 306.11,534.52 306.07,534.70 306.05,535.14 306.00,536.00 305.93,537.50 305.87,539.53 305.81,541.80 305.77,544.04 305.73,545.97 305.70,547.30 305.70,547.30 305.67,545.97 305.63,544.04 305.59,541.80 305.53,539.53 305.47,537.50 305.40,536.00 305.35,535.14 305.33,534.70 305.29,534.52 305.22,534.40 305.07,534.15 304.80,533.60 304.39,532.72 303.86,531.66 303.24,530.48 302.60,529.23 301.97,527.98 301.40,526.80 300.86,525.65 300.32,524.47 299.79,523.29 299.29,522.14 298.86,521.03 298.50,520.00 298.23,519.07 298.02,518.24 297.88,517.45 297.78,516.66 297.72,515.83 297.70,514.90 297.75,513.85 297.88,512.70 298.06,511.50 298.23,510.30 298.36,509.15 298.40,508.10 298.34,507.17 298.20,506.34 298.01,505.56 297.81,504.77 297.63,503.93 297.50,503.00 297.40,501.97 297.31,500.89 297.24,499.76 297.20,498.59 297.18,497.36 297.20,496.10 297.26,494.78 297.35,493.39 297.47,491.95 297.63,490.49 297.80,489.04 298.00,487.60 298.23,486.18 298.51,484.77 298.81,483.35 299.12,481.93 299.42,480.52 299.70,479.10 299.95,477.66 300.20,476.21 300.43,474.75 300.66,473.31 300.88,471.92 301.10,470.60 301.30,469.34 301.49,468.11 301.66,466.94 301.85,465.81 302.06,464.73 302.30,463.70 302.60,462.73 302.95,461.80 303.32,460.93 303.69,460.11 304.02,459.33 304.30,458.60 304.52,457.93 304.71,457.33 304.86,456.78 304.99,456.26 305.10,455.74 305.20,455.20 305.27,454.68 305.31,454.20 305.34,453.73 305.35,453.22 305.37,452.66 305.40,452.00 305.45,451.16 305.50,450.16 305.56,449.10 305.62,448.08 305.67,447.21 305.70,446.60" fill="#c83e41" stroke="#1a1a1a" stroke-width="1.1" stroke-linejoin="round"/>
<line x1="299.23" y1="484.20" x2="312.17" y2="484.20" stroke="#1a1a1a" stroke-width="0.7" stroke-dasharray="0.9,0.9"/>
<line x1="297.92" y1="500.90" x2="313.48" y2="500.90" stroke="#1a1a1a" stroke-width="0.9" stroke-dasharray="1.6,1"/>
<line x1="298.64" y1="518.30" x2="312.76" y2="518.30" stroke="#1a1a1a" stroke-width="0.7" stroke-dasharray="0.9,0.9"/>
<rect x="46.40" y="554.70" width="13.20" height="10.2" fill="#fff" stroke="#444" stroke-width="0.8"/>
<text x="53.00" y="562.21" font-size="7" text-anchor="middle" fill="#222" stroke="#222" stroke-width="0" >1.3</text>
<rect x="73.10" y="476.40" width="16.20" height="10.2" fill="#fff" stroke="#444" stroke-width="0.8"/>
<text x="81.20" y="483.91" font-size="7" text-anchor="middle" fill="#222" stroke="#222" stroke-width="0" >35.5</text>
<rect x="102.30" y="563.40" width="13.20" height="10.2" fill="#fff" stroke="#444" stroke-width="0.8"/>
<text x="108.90" y="570.91" font-size="7" text-anchor="middle" fill="#222" stroke="#222" stroke-width="0" >0.7</text>
<rect x="130.40" y="480.50" width="13.20" height="10.2" fill="#fff" stroke="#444" stroke-width="0.8"/>
<text x="137.00" y="488.01" font-size="7" text-anchor="middle" fill="#222" stroke="#222" stroke-width="0" >8.9</text>
<rect x="159.00" y="550.90" width="13.20" height="10.2" fill="#fff" stroke="#444" stroke-width="0.8"/>
<text x="165.60" y="558.41" font-size="7" text-anchor="middle" fill="#222" stroke="#222" stroke-width="0" >2.8</text>
<rect x="185.70" y="387.10" width="16.20" height="10.2" fill="#fff" stroke="#444" stroke-width="0.8"/>
<text x="193.80" y="394.61" font-size="7" text-anchor="middle" fill="#222" stroke="#222" stroke-width="0" >47.2</text>
<rect x="215.10" y="561.20" width="13.20" height="10.2" fill="#fff" stroke="#444" stroke-width="0.8"/>
<text x="221.70" y="568.71" font-size="7" text-anchor="middle" fill="#222" stroke="#222" stroke-width="0" >1.2</text>
<rect x="243.40" y="537.30" width="13.20" height="10.2" fill="#fff" stroke="#444" stroke-width="0.8"/>
<text x="250.00" y="544.81" font-size="7" text-anchor="middle" fill="#222" stroke="#222" stroke-width="0" >7.6</text>
<rect x="271.00" y="555.40" width="13.20" height="10.2" fill="#fff" stroke="#444" stroke-width="0.8"/>
<text x="277.60" y="562.91" font-size="7" text-anchor="middle" fill="#222" stroke="#222" stroke-width="0" >2.4</text>
<rect x="298.00" y="436.30" width="16.20" height="10.2" fill="#fff" stroke="#444" stroke-width="0.8"/>
<text x="306.10" y="443.81" font-size="7" text-anchor="middle" fill="#222" stroke="#222" stroke-width="0" >42.0</text>
<g transform="translate(6.10,483.60) rotate(-90)">
<text x="0" y="2.03" font-size="7.7" text-anchor="middle" fill="#0a0a0a" stroke="#0a0a0a" stroke-width="0.07">Plasma ipilimumab (μg ml<tspan font-size="5.5" dy="-2.6">−1</tspan><tspan dy="2.6">)</tspan></text>
</g>
<line x1="370.50" y1="396.00" x2="370.50" y2="577.80" stroke="#888" stroke-width="1" />
<line x1="366.80" y1="396.00" x2="370.50" y2="396.00" stroke="#888" stroke-width="1" />
<text x="362.40" y="398.75" font-size="8" text-anchor="end" fill="#0a0a0a" stroke="#0a0a0a" stroke-width="0.07" >100</text>
<line x1="366.80" y1="432.36" x2="370.50" y2="432.36" stroke="#888" stroke-width="1" />
<text x="362.40" y="435.11" font-size="8" text-anchor="end" fill="#0a0a0a" stroke="#0a0a0a" stroke-width="0.07" >80</text>
<line x1="366.80" y1="468.72" x2="370.50" y2="468.72" stroke="#888" stroke-width="1" />
<text x="362.40" y="471.47" font-size="8" text-anchor="end" fill="#0a0a0a" stroke="#0a0a0a" stroke-width="0.07" >60</text>
<line x1="366.80" y1="505.08" x2="370.50" y2="505.08" stroke="#888" stroke-width="1" />
<text x="362.40" y="507.83" font-size="8" text-anchor="end" fill="#0a0a0a" stroke="#0a0a0a" stroke-width="0.07" >40</text>
<line x1="366.80" y1="541.44" x2="370.50" y2="541.44" stroke="#888" stroke-width="1" />
<text x="362.40" y="544.19" font-size="8" text-anchor="end" fill="#0a0a0a" stroke="#0a0a0a" stroke-width="0.07" >20</text>
<line x1="366.80" y1="577.80" x2="370.50" y2="577.80" stroke="#888" stroke-width="1" />
<text x="362.40" y="580.55" font-size="8" text-anchor="end" fill="#0a0a0a" stroke="#0a0a0a" stroke-width="0.07" >0</text>
<line x1="366.60" y1="578.30" x2="660.90" y2="578.30" stroke="#555" stroke-width="0.8" />
<line x1="389.27" y1="578.70" x2="389.27" y2="581.80" stroke="#bbb" stroke-width="0.8" />
<line x1="417.30" y1="578.70" x2="417.30" y2="581.80" stroke="#bbb" stroke-width="0.8" />
<line x1="445.33" y1="578.70" x2="445.33" y2="581.80" stroke="#bbb" stroke-width="0.8" />
<line x1="473.37" y1="578.70" x2="473.37" y2="581.80" stroke="#bbb" stroke-width="0.8" />
<line x1="501.40" y1="578.70" x2="501.40" y2="581.80" stroke="#bbb" stroke-width="0.8" />
<line x1="529.43" y1="578.70" x2="529.43" y2="581.80" stroke="#bbb" stroke-width="0.8" />
<line x1="557.46" y1="578.70" x2="557.46" y2="581.80" stroke="#bbb" stroke-width="0.8" />
<line x1="585.49" y1="578.70" x2="585.49" y2="581.80" stroke="#bbb" stroke-width="0.8" />
<line x1="613.53" y1="578.70" x2="613.53" y2="581.80" stroke="#bbb" stroke-width="0.8" />
<line x1="641.56" y1="578.70" x2="641.56" y2="581.80" stroke="#bbb" stroke-width="0.8" />
<line x1="431.20" y1="396.30" x2="431.20" y2="577.60" stroke="#333" stroke-width="0.8" stroke-dasharray="0.9,1.1"/>
<line x1="487.40" y1="396.30" x2="487.40" y2="577.60" stroke="#333" stroke-width="0.8" stroke-dasharray="0.9,1.1"/>
<line x1="543.60" y1="396.30" x2="543.60" y2="577.60" stroke="#333" stroke-width="0.8" stroke-dasharray="0.9,1.1"/>
<line x1="599.80" y1="396.30" x2="599.80" y2="577.60" stroke="#333" stroke-width="0.8" stroke-dasharray="0.9,1.1"/>
<polyline fill="none" stroke="#1a1a1a" stroke-width="1" points="389.50,510.50 389.50,385.50 417.50,385.50 417.50,480.00"/>
<text x="403.40" y="382.65" font-size="8" text-anchor="middle" fill="#0a0a0a" stroke="#0a0a0a" stroke-width="0.07" ><tspan font-style="italic">P</tspan> = 0.63</text>
<polyline fill="none" stroke="#1a1a1a" stroke-width="1" points="444.50,512.10 444.50,385.50 473.50,385.50 473.50,522.30"/>
<text x="458.70" y="381.75" font-size="8" text-anchor="middle" fill="#0a0a0a" stroke="#0a0a0a" stroke-width="0.07" ><tspan font-style="italic">P</tspan> = 0.25</text>
<polyline fill="none" stroke="#1a1a1a" stroke-width="1" points="501.50,500.50 501.50,387.50 529.50,387.50 529.50,507.20"/>
<text x="515.60" y="384.15" font-size="8" text-anchor="middle" fill="#0a0a0a" stroke="#0a0a0a" stroke-width="0.07" ><tspan font-style="italic">P</tspan> = 0.0073</text>
<polyline fill="none" stroke="#1a1a1a" stroke-width="1" points="557.50,498.90 557.50,386.50 585.50,386.50 585.50,536.20"/>
<text x="572.35" y="382.45" font-size="8" text-anchor="middle" fill="#0a0a0a" stroke="#0a0a0a" stroke-width="0.07" ><tspan font-style="italic">P</tspan> = 0.0159</text>
<polyline fill="none" stroke="#1a1a1a" stroke-width="1" points="613.50,469.10 613.50,386.50 641.50,386.50 641.50,500.50"/>
<text x="627.85" y="382.45" font-size="8" text-anchor="middle" fill="#0a0a0a" stroke="#0a0a0a" stroke-width="0.07" ><tspan font-style="italic">P</tspan> = 0.0023</text>
<polygon points="389.00,523.40 389.05,523.51 389.11,523.65 389.18,523.82 389.27,524.02 389.38,524.25 389.50,524.50 389.65,524.79 389.82,525.12 390.01,525.48 390.20,525.86 390.40,526.23 390.60,526.60 390.80,526.96 391.02,527.33 391.24,527.71 391.46,528.08 391.65,528.44 391.80,528.80 391.92,529.15 392.03,529.49 392.11,529.82 392.17,530.16 392.20,530.48 392.20,530.80 392.16,531.12 392.08,531.43 391.97,531.74 391.84,532.04 391.72,532.33 391.60,532.60 391.47,532.86 391.32,533.09 391.17,533.32 391.03,533.54 390.94,533.77 390.90,534.00 390.93,534.24 391.00,534.49 391.11,534.74 391.25,534.99 391.42,535.24 391.60,535.50 391.80,535.74 392.03,535.97 392.28,536.19 392.56,536.44 392.87,536.74 393.20,537.10 393.58,537.53 394.01,538.01 394.47,538.54 394.93,539.10 395.38,539.69 395.80,540.30 396.21,540.94 396.65,541.63 397.07,542.34 397.45,543.06 397.74,543.79 397.90,544.50 397.94,545.21 397.88,545.94 397.73,546.67 397.51,547.38 397.23,548.06 396.90,548.70 396.49,549.29 395.99,549.85 395.43,550.38 394.84,550.88 394.25,551.35 393.70,551.80 393.14,552.21 392.55,552.59 391.96,552.94 391.41,553.27 390.94,553.59 390.60,553.90 390.40,554.19 390.33,554.45 390.33,554.70 390.39,554.95 390.45,555.21 390.50,555.50 390.55,555.83 390.64,556.18 390.75,556.54 390.84,556.91 390.90,557.27 390.90,557.60 390.82,557.91 390.69,558.22 390.52,558.52 390.33,558.80 390.15,559.06 390.00,559.30 389.86,559.38 389.73,559.27 389.59,559.15 389.47,559.17 389.37,559.50 389.30,560.30 389.25,561.80 389.21,563.92 389.20,566.34 389.21,568.77 389.24,570.89 389.30,572.40 389.40,573.21 389.54,573.55 389.71,573.58 389.89,573.47 390.06,573.39 390.20,573.50 390.33,573.78 390.47,574.11 390.59,574.46 390.70,574.81 390.77,575.17 390.80,575.50 390.78,575.82 390.71,576.15 390.61,576.47 390.49,576.77 390.35,577.05 390.20,577.30 390.02,577.51 389.80,577.70 389.56,577.86 389.33,578.00 389.14,578.11 389.00,578.20 389.00,578.20 388.86,578.11 388.67,578.00 388.44,577.86 388.20,577.70 387.98,577.51 387.80,577.30 387.65,577.05 387.51,576.77 387.39,576.47 387.29,576.15 387.22,575.82 387.20,575.50 387.23,575.17 387.30,574.81 387.41,574.46 387.53,574.11 387.67,573.78 387.80,573.50 387.94,573.39 388.11,573.47 388.29,573.58 388.46,573.55 388.60,573.21 388.70,572.40 388.76,570.89 388.79,568.77 388.80,566.34 388.79,563.92 388.75,561.80 388.70,560.30 388.63,559.50 388.53,559.17 388.41,559.15 388.27,559.27 388.14,559.38 388.00,559.30 387.85,559.06 387.67,558.80 387.48,558.52 387.31,558.22 387.18,557.91 387.10,557.60 387.10,557.27 387.16,556.91 387.25,556.54 387.36,556.18 387.45,555.83 387.50,555.50 387.55,555.21 387.61,554.95 387.67,554.70 387.67,554.45 387.60,554.19 387.40,553.90 387.06,553.59 386.59,553.27 386.04,552.94 385.45,552.59 384.86,552.21 384.30,551.80 383.75,551.35 383.16,550.88 382.57,550.38 382.01,549.85 381.51,549.29 381.10,548.70 380.77,548.06 380.49,547.38 380.27,546.67 380.12,545.94 380.06,545.21 380.10,544.50 380.26,543.79 380.55,543.06 380.93,542.34 381.35,541.63 381.79,540.94 382.20,540.30 382.62,539.69 383.07,539.10 383.53,538.54 383.99,538.01 384.42,537.53 384.80,537.10 385.13,536.74 385.44,536.44 385.72,536.19 385.97,535.97 386.20,535.74 386.40,535.50 386.58,535.24 386.75,534.99 386.89,534.74 387.00,534.49 387.07,534.24 387.10,534.00 387.06,533.77 386.97,533.54 386.83,533.32 386.68,533.09 386.53,532.86 386.40,532.60 386.28,532.33 386.16,532.04 386.03,531.74 385.92,531.43 385.84,531.12 385.80,530.80 385.80,530.48 385.83,530.16 385.89,529.82 385.97,529.49 386.08,529.15 386.20,528.80 386.35,528.44 386.54,528.08 386.76,527.71 386.98,527.33 387.20,526.96 387.40,526.60 387.60,526.23 387.80,525.86 387.99,525.48 388.18,525.12 388.35,524.79 388.50,524.50 388.62,524.25 388.73,524.02 388.82,523.82 388.89,523.65 388.95,523.51 389.00,523.40" fill="#0b6fb3" stroke="#1a1a1a" stroke-width="1.1" stroke-linejoin="round"/>
<line x1="382.28" y1="541.10" x2="395.72" y2="541.10" stroke="#1a1a1a" stroke-width="0.7" stroke-dasharray="0.9,0.9"/>
<line x1="380.67" y1="545.30" x2="397.33" y2="545.30" stroke="#1a1a1a" stroke-width="0.9" stroke-dasharray="1.6,1"/>
<line x1="382.04" y1="549.20" x2="395.96" y2="549.20" stroke="#1a1a1a" stroke-width="0.7" stroke-dasharray="0.9,0.9"/>
<polygon points="417.30,493.50 417.33,493.86 417.38,494.36 417.43,494.94 417.49,495.60 417.55,496.30 417.60,497.00 417.64,497.76 417.68,498.60 417.72,499.48 417.76,500.35 417.82,501.17 417.90,501.90 418.01,502.52 418.14,503.07 418.29,503.56 418.44,504.03 418.58,504.50 418.70,505.00 418.81,505.52 418.92,506.04 419.02,506.56 419.10,507.08 419.17,507.59 419.20,508.10 419.20,508.59 419.17,509.07 419.11,509.54 419.04,510.02 418.97,510.50 418.90,511.00 418.83,511.51 418.74,512.02 418.66,512.54 418.57,513.08 418.48,513.63 418.40,514.20 418.32,514.80 418.24,515.42 418.16,516.06 418.09,516.70 418.04,517.35 418.00,518.00 417.97,518.65 417.94,519.32 417.92,519.99 417.93,520.66 417.98,521.30 418.10,521.90 418.28,522.46 418.50,522.99 418.78,523.50 419.09,524.00 419.43,524.49 419.80,525.00 420.22,525.48 420.69,525.92 421.19,526.36 421.71,526.84 422.22,527.41 422.70,528.10 423.17,528.94 423.65,529.91 424.12,530.96 424.57,532.05 424.97,533.14 425.30,534.20 425.59,535.23 425.86,536.26 426.08,537.30 426.23,538.34 426.28,539.37 426.20,540.40 425.95,541.42 425.54,542.44 425.03,543.45 424.47,544.46 423.95,545.48 423.50,546.50 423.12,547.53 422.76,548.56 422.41,549.60 422.10,550.64 421.83,551.67 421.60,552.70 421.43,553.72 421.33,554.74 421.26,555.75 421.21,556.76 421.16,557.78 421.10,558.80 421.04,559.83 421.00,560.86 420.97,561.89 420.92,562.93 420.83,563.97 420.70,565.00 420.50,566.03 420.25,567.07 419.97,568.11 419.67,569.14 419.37,570.17 419.10,571.20 418.83,572.28 418.55,573.44 418.27,574.59 418.01,575.67 417.78,576.60 417.60,577.30 417.48,577.74 417.40,577.96 417.36,578.03 417.33,578.02 417.32,577.99 417.30,578.00 417.30,578.00 417.28,577.99 417.27,578.02 417.24,578.03 417.20,577.96 417.12,577.74 417.00,577.30 416.82,576.60 416.59,575.67 416.33,574.59 416.05,573.44 415.77,572.28 415.50,571.20 415.23,570.17 414.93,569.14 414.63,568.11 414.35,567.07 414.10,566.03 413.90,565.00 413.77,563.97 413.68,562.93 413.63,561.89 413.60,560.86 413.56,559.83 413.50,558.80 413.44,557.78 413.39,556.76 413.34,555.75 413.27,554.74 413.17,553.72 413.00,552.70 412.77,551.67 412.50,550.64 412.19,549.60 411.84,548.56 411.48,547.53 411.10,546.50 410.65,545.48 410.13,544.46 409.57,543.45 409.06,542.44 408.65,541.42 408.40,540.40 408.32,539.37 408.37,538.34 408.52,537.30 408.74,536.26 409.01,535.23 409.30,534.20 409.63,533.14 410.03,532.05 410.48,530.96 410.95,529.91 411.43,528.94 411.90,528.10 412.38,527.41 412.89,526.84 413.41,526.36 413.91,525.92 414.38,525.48 414.80,525.00 415.17,524.49 415.51,524.00 415.82,523.50 416.10,522.99 416.32,522.46 416.50,521.90 416.62,521.30 416.67,520.66 416.68,519.99 416.66,519.32 416.63,518.65 416.60,518.00 416.56,517.35 416.51,516.70 416.44,516.06 416.36,515.42 416.28,514.80 416.20,514.20 416.12,513.63 416.03,513.08 415.94,512.54 415.86,512.02 415.77,511.51 415.70,511.00 415.63,510.50 415.56,510.02 415.49,509.54 415.43,509.07 415.40,508.59 415.40,508.10 415.43,507.59 415.50,507.08 415.58,506.56 415.68,506.04 415.79,505.52 415.90,505.00 416.02,504.50 416.16,504.03 416.31,503.56 416.46,503.07 416.59,502.52 416.70,501.90 416.78,501.17 416.84,500.35 416.88,499.48 416.92,498.60 416.96,497.76 417.00,497.00 417.05,496.30 417.11,495.60 417.17,494.94 417.22,494.36 417.27,493.86 417.30,493.50" fill="#c83e41" stroke="#1a1a1a" stroke-width="1.1" stroke-linejoin="round"/>
<line x1="409.59" y1="535.30" x2="425.01" y2="535.30" stroke="#1a1a1a" stroke-width="0.7" stroke-dasharray="0.9,0.9"/>
<line x1="409.65" y1="542.40" x2="424.95" y2="542.40" stroke="#1a1a1a" stroke-width="0.9" stroke-dasharray="1.6,1"/>
<line x1="414.22" y1="561.50" x2="420.38" y2="561.50" stroke="#1a1a1a" stroke-width="0.7" stroke-dasharray="0.9,0.9"/>
<line x1="445.10" y1="525.80" x2="445.10" y2="563.50" stroke="#111" stroke-width="1.1" />
<polygon points="445.10,527.00 445.20,527.10 445.33,527.25 445.50,527.42 445.67,527.60 445.83,527.78 445.98,527.95 446.13,528.11 446.29,528.27 446.44,528.42 446.57,528.58 446.67,528.74 446.70,528.90 446.67,529.06 446.57,529.22 446.44,529.38 446.29,529.53 446.13,529.69 445.98,529.85 445.83,530.02 445.67,530.20 445.50,530.38 445.33,530.55 445.20,530.70 445.10,530.80 445.10,530.80 445.00,530.70 444.87,530.55 444.71,530.38 444.53,530.20 444.37,530.02 444.22,529.85 444.07,529.69 443.91,529.53 443.76,529.38 443.63,529.22 443.53,529.06 443.50,528.90 443.53,528.74 443.63,528.58 443.76,528.42 443.91,528.27 444.07,528.11 444.22,527.95 444.37,527.78 444.53,527.60 444.71,527.42 444.87,527.25 445.00,527.10 445.10,527.00" fill="#0b6fb3" stroke="#1a1a1a" stroke-width="1.1" stroke-linejoin="round"/>
<polygon points="445.10,562.80 445.23,562.89 445.41,563.01 445.62,563.16 445.86,563.32 446.09,563.50 446.30,563.70 446.47,563.90 446.60,564.12 446.73,564.36 446.90,564.61 447.14,564.89 447.50,565.20 448.01,565.55 448.66,565.93 449.38,566.34 450.11,566.77 450.81,567.19 451.40,567.60 451.95,568.00 452.53,568.40 453.06,568.79 453.49,569.19 453.75,569.59 453.80,570.00 453.56,570.42 453.06,570.85 452.40,571.28 451.67,571.71 450.98,572.12 450.40,572.50 449.91,572.85 449.42,573.17 448.96,573.48 448.55,573.78 448.22,574.08 448.00,574.40 447.93,574.74 447.99,575.09 448.14,575.44 448.31,575.79 448.45,576.11 448.50,576.40 448.49,576.65 448.46,576.88 448.41,577.08 448.30,577.27 448.14,577.44 447.90,577.60 447.53,577.75 447.03,577.90 446.46,578.03 445.91,578.14 445.43,578.23 445.10,578.30 445.10,578.30 444.77,578.23 444.29,578.14 443.74,578.03 443.17,577.90 442.67,577.75 442.30,577.60 442.06,577.44 441.90,577.27 441.79,577.08 441.74,576.88 441.71,576.65 441.70,576.40 441.75,576.11 441.89,575.79 442.06,575.44 442.21,575.09 442.27,574.74 442.20,574.40 441.98,574.08 441.65,573.78 441.24,573.48 440.78,573.17 440.29,572.85 439.80,572.50 439.22,572.12 438.53,571.71 437.80,571.28 437.14,570.85 436.64,570.42 436.40,570.00 436.45,569.59 436.71,569.19 437.14,568.79 437.67,568.40 438.25,568.00 438.80,567.60 439.39,567.19 440.09,566.77 440.83,566.34 441.54,565.93 442.19,565.55 442.70,565.20 443.06,564.89 443.30,564.61 443.47,564.36 443.60,564.12 443.73,563.90 443.90,563.70 444.11,563.50 444.34,563.32 444.58,563.16 444.79,563.01 444.97,562.89 445.10,562.80" fill="#0b6fb3" stroke="#1a1a1a" stroke-width="1.1" stroke-linejoin="round"/>
<line x1="437.41" y1="569.10" x2="452.79" y2="569.10" stroke="#1a1a1a" stroke-width="0.7" stroke-dasharray="0.9,0.9"/>
<line x1="437.34" y1="570.50" x2="452.86" y2="570.50" stroke="#1a1a1a" stroke-width="0.9" stroke-dasharray="1.6,1"/>
<line x1="440.40" y1="572.50" x2="449.80" y2="572.50" stroke="#1a1a1a" stroke-width="0.7" stroke-dasharray="0.9,0.9"/>
<line x1="473.10" y1="536.00" x2="473.10" y2="563.50" stroke="#111" stroke-width="1.1" />
<polygon points="473.10,539.00 473.28,539.26 473.52,539.62 473.82,540.05 474.13,540.51 474.43,540.97 474.70,541.40 474.96,541.80 475.25,542.20 475.53,542.60 475.77,543.00 475.94,543.40 476.00,543.80 475.94,544.20 475.77,544.60 475.53,545.00 475.25,545.40 474.96,545.80 474.70,546.20 474.43,546.63 474.13,547.09 473.82,547.55 473.52,547.98 473.28,548.34 473.10,548.60 473.10,548.60 472.92,548.34 472.68,547.98 472.38,547.55 472.07,547.09 471.77,546.63 471.50,546.20 471.24,545.80 470.95,545.40 470.67,545.00 470.43,544.60 470.26,544.20 470.20,543.80 470.26,543.40 470.43,543.00 470.67,542.60 470.95,542.20 471.24,541.80 471.50,541.40 471.77,540.97 472.07,540.51 472.38,540.05 472.68,539.62 472.92,539.26 473.10,539.00" fill="#c83e41" stroke="#1a1a1a" stroke-width="1.1" stroke-linejoin="round"/>
<polygon points="473.10,563.00 473.25,563.06 473.46,563.14 473.70,563.23 473.98,563.34 474.28,563.46 474.60,563.60 474.95,563.75 475.33,563.90 475.74,564.07 476.17,564.26 476.59,564.46 477.00,564.70 477.40,564.96 477.81,565.23 478.23,565.53 478.63,565.86 479.02,566.21 479.40,566.60 479.79,567.04 480.21,567.52 480.61,568.04 480.97,568.57 481.24,569.09 481.40,569.60 481.41,570.09 481.29,570.59 481.09,571.09 480.84,571.57 480.60,572.05 480.40,572.50 480.21,572.93 479.99,573.36 479.76,573.76 479.57,574.16 479.44,574.53 479.40,574.90 479.48,575.26 479.65,575.60 479.89,575.94 480.15,576.25 480.40,576.54 480.60,576.80 480.86,577.02 481.23,577.22 481.59,577.39 481.82,577.54 481.80,577.67 481.40,577.80 480.45,577.92 479.00,578.02 477.30,578.11 475.59,578.19 474.11,578.25 473.10,578.30 473.10,578.30 472.09,578.25 470.61,578.19 468.90,578.11 467.20,578.02 465.75,577.92 464.80,577.80 464.40,577.67 464.38,577.54 464.61,577.39 464.97,577.22 465.34,577.02 465.60,576.80 465.80,576.54 466.05,576.25 466.31,575.94 466.55,575.60 466.72,575.26 466.80,574.90 466.76,574.53 466.63,574.16 466.44,573.76 466.21,573.36 465.99,572.93 465.80,572.50 465.60,572.05 465.36,571.57 465.11,571.09 464.91,570.59 464.79,570.09 464.80,569.60 464.96,569.09 465.23,568.57 465.59,568.04 465.99,567.52 466.41,567.04 466.80,566.60 467.18,566.21 467.57,565.86 467.98,565.53 468.39,565.23 468.80,564.96 469.20,564.70 469.61,564.46 470.03,564.26 470.46,564.07 470.87,563.90 471.25,563.75 471.60,563.60 471.92,563.46 472.22,563.34 472.50,563.23 472.74,563.14 472.95,563.06 473.10,563.00" fill="#c83e41" stroke="#1a1a1a" stroke-width="1.1" stroke-linejoin="round"/>
<line x1="465.81" y1="568.60" x2="480.39" y2="568.60" stroke="#1a1a1a" stroke-width="0.7" stroke-dasharray="0.9,0.9"/>
<line x1="465.68" y1="571.00" x2="480.52" y2="571.00" stroke="#1a1a1a" stroke-width="0.9" stroke-dasharray="1.6,1"/>
<line x1="467.20" y1="575.50" x2="479.00" y2="575.50" stroke="#1a1a1a" stroke-width="0.7" stroke-dasharray="0.9,0.9"/>
<polygon points="501.40,513.50 501.44,513.66 501.49,513.89 501.55,514.16 501.62,514.45 501.71,514.74 501.80,515.00 501.91,515.24 502.03,515.47 502.16,515.69 502.30,515.92 502.45,516.16 502.60,516.40 502.76,516.66 502.93,516.92 503.11,517.19 503.29,517.46 503.45,517.73 503.60,518.00 503.74,518.27 503.87,518.53 504.00,518.80 504.10,519.07 504.17,519.33 504.20,519.60 504.17,519.87 504.10,520.13 504.00,520.40 503.87,520.67 503.74,520.93 503.60,521.20 503.45,521.47 503.29,521.73 503.11,521.99 502.93,522.26 502.76,522.53 502.60,522.80 502.43,523.07 502.23,523.33 502.04,523.60 501.88,523.88 501.79,524.17 501.80,524.50 501.92,524.86 502.12,525.25 502.39,525.66 502.71,526.07 503.05,526.49 503.40,526.90 503.76,527.30 504.14,527.70 504.55,528.09 504.98,528.49 505.43,528.89 505.90,529.30 506.41,529.72 506.97,530.16 507.56,530.60 508.13,531.03 508.65,531.43 509.10,531.80 509.51,532.11 509.91,532.39 510.27,532.63 510.55,532.87 510.71,533.12 510.70,533.40 510.50,533.71 510.13,534.04 509.63,534.38 509.06,534.72 508.47,535.06 507.90,535.40 507.31,535.74 506.66,536.08 505.99,536.42 505.33,536.76 504.72,537.08 504.20,537.40 503.76,537.70 503.38,537.99 503.04,538.27 502.77,538.55 502.55,538.83 502.40,539.10 502.34,539.37 502.38,539.64 502.47,539.91 502.60,540.17 502.72,540.43 502.80,540.70 502.85,540.97 502.90,541.25 502.95,541.52 502.99,541.80 503.00,542.06 503.00,542.30 502.97,542.52 502.92,542.73 502.85,542.92 502.77,543.11 502.69,543.30 502.60,543.50 502.51,543.68 502.41,543.84 502.31,543.99 502.21,544.17 502.10,544.40 502.00,544.70 501.89,545.12 501.78,545.65 501.66,546.23 501.56,546.79 501.47,547.26 501.40,547.60 501.40,547.60 501.33,547.26 501.24,546.79 501.14,546.23 501.02,545.65 500.91,545.12 500.80,544.70 500.70,544.40 500.59,544.17 500.49,543.99 500.39,543.84 500.29,543.68 500.20,543.50 500.11,543.30 500.03,543.11 499.95,542.92 499.88,542.73 499.83,542.52 499.80,542.30 499.80,542.06 499.81,541.80 499.85,541.52 499.90,541.25 499.95,540.97 500.00,540.70 500.08,540.43 500.20,540.17 500.32,539.91 500.42,539.64 500.46,539.37 500.40,539.10 500.25,538.83 500.03,538.55 499.76,538.27 499.42,537.99 499.04,537.70 498.60,537.40 498.08,537.08 497.47,536.76 496.81,536.42 496.14,536.08 495.49,535.74 494.90,535.40 494.33,535.06 493.74,534.72 493.17,534.38 492.67,534.04 492.30,533.71 492.10,533.40 492.09,533.12 492.25,532.87 492.52,532.63 492.89,532.39 493.29,532.11 493.70,531.80 494.15,531.43 494.67,531.03 495.24,530.60 495.83,530.16 496.39,529.72 496.90,529.30 497.37,528.89 497.82,528.49 498.25,528.09 498.66,527.70 499.04,527.30 499.40,526.90 499.75,526.49 500.09,526.07 500.41,525.66 500.68,525.25 500.88,524.86 501.00,524.50 501.01,524.17 500.92,523.88 500.76,523.60 500.57,523.33 500.37,523.07 500.20,522.80 500.04,522.53 499.87,522.26 499.69,521.99 499.51,521.73 499.35,521.47 499.20,521.20 499.06,520.93 498.93,520.67 498.80,520.40 498.70,520.13 498.63,519.87 498.60,519.60 498.63,519.33 498.70,519.07 498.80,518.80 498.93,518.53 499.06,518.27 499.20,518.00 499.35,517.73 499.51,517.46 499.69,517.19 499.87,516.92 500.04,516.66 500.20,516.40 500.35,516.16 500.50,515.92 500.64,515.69 500.77,515.47 500.89,515.24 501.00,515.00 501.09,514.74 501.18,514.45 501.25,514.16 501.31,513.89 501.36,513.66 501.40,513.50" fill="#0b6fb3" stroke="#1a1a1a" stroke-width="1.1" stroke-linejoin="round"/>
<line x1="493.61" y1="532.30" x2="509.19" y2="532.30" stroke="#1a1a1a" stroke-width="0.7" stroke-dasharray="0.9,0.9"/>
<line x1="493.00" y1="533.80" x2="509.80" y2="533.80" stroke="#1a1a1a" stroke-width="0.9" stroke-dasharray="1.6,1"/>
<line x1="495.33" y1="535.30" x2="507.47" y2="535.30" stroke="#1a1a1a" stroke-width="0.7" stroke-dasharray="0.9,0.9"/>
<polygon points="529.60,520.70 529.63,521.17 529.67,521.86 529.72,522.65 529.77,523.46 529.83,524.17 529.90,524.70 529.96,525.00 530.03,525.14 530.09,525.19 530.17,525.23 530.27,525.31 530.40,525.50 530.56,525.81 530.76,526.18 530.98,526.60 531.20,527.05 531.41,527.52 531.60,528.00 531.75,528.50 531.87,529.04 531.98,529.60 532.10,530.16 532.27,530.70 532.50,531.20 532.81,531.66 533.17,532.09 533.58,532.50 534.01,532.90 534.46,533.30 534.90,533.70 535.36,534.12 535.86,534.54 536.38,534.96 536.87,535.36 537.32,535.75 537.70,536.10 538.03,536.41 538.34,536.69 538.60,536.95 538.80,537.20 538.90,537.44 538.90,537.70 538.75,537.96 538.47,538.20 538.10,538.44 537.69,538.70 537.27,538.98 536.90,539.30 536.55,539.67 536.17,540.10 535.80,540.55 535.45,541.00 535.14,541.42 534.90,541.80 534.75,542.11 534.66,542.37 534.62,542.61 534.60,542.84 534.57,543.10 534.50,543.40 534.40,543.75 534.31,544.14 534.21,544.54 534.08,544.96 533.91,545.38 533.70,545.80 533.41,546.22 533.05,546.66 532.65,547.10 532.25,547.53 531.89,547.93 531.60,548.30 531.38,548.62 531.19,548.90 531.03,549.16 530.91,549.40 530.84,549.64 530.80,549.90 530.82,550.17 530.90,550.43 531.02,550.70 531.16,550.97 531.29,551.23 531.40,551.50 531.50,551.76 531.60,552.00 531.71,552.24 531.80,552.50 531.86,552.78 531.90,553.10 531.91,553.47 531.89,553.87 531.86,554.30 531.80,554.74 531.71,555.18 531.60,555.60 531.44,556.02 531.24,556.44 531.01,556.86 530.78,557.27 530.57,557.65 530.40,558.00 530.27,558.28 530.17,558.50 530.09,558.69 530.03,558.90 529.96,559.16 529.90,559.50 529.83,559.98 529.77,560.59 529.72,561.24 529.67,561.88 529.63,562.42 529.60,562.80 529.60,562.80 529.57,562.42 529.53,561.88 529.48,561.24 529.43,560.59 529.37,559.98 529.30,559.50 529.24,559.16 529.17,558.90 529.11,558.69 529.03,558.50 528.93,558.28 528.80,558.00 528.63,557.65 528.42,557.27 528.19,556.86 527.96,556.44 527.76,556.02 527.60,555.60 527.49,555.18 527.40,554.74 527.34,554.30 527.31,553.87 527.29,553.47 527.30,553.10 527.34,552.78 527.40,552.50 527.49,552.24 527.60,552.00 527.70,551.76 527.80,551.50 527.91,551.23 528.04,550.97 528.18,550.70 528.30,550.43 528.38,550.17 528.40,549.90 528.36,549.64 528.29,549.40 528.17,549.16 528.01,548.90 527.82,548.62 527.60,548.30 527.31,547.93 526.95,547.53 526.55,547.10 526.15,546.66 525.79,546.22 525.50,545.80 525.29,545.38 525.12,544.96 524.99,544.54 524.89,544.14 524.80,543.75 524.70,543.40 524.63,543.10 524.60,542.84 524.58,542.61 524.54,542.37 524.45,542.11 524.30,541.80 524.06,541.42 523.75,541.00 523.40,540.55 523.03,540.10 522.65,539.67 522.30,539.30 521.93,538.98 521.51,538.70 521.10,538.44 520.73,538.20 520.45,537.96 520.30,537.70 520.30,537.44 520.40,537.20 520.60,536.95 520.86,536.69 521.17,536.41 521.50,536.10 521.88,535.75 522.33,535.36 522.83,534.96 523.34,534.54 523.84,534.12 524.30,533.70 524.74,533.30 525.19,532.90 525.62,532.50 526.03,532.09 526.39,531.66 526.70,531.20 526.93,530.70 527.10,530.16 527.23,529.60 527.33,529.04 527.45,528.50 527.60,528.00 527.79,527.52 528.00,527.05 528.23,526.60 528.44,526.18 528.64,525.81 528.80,525.50 528.93,525.31 529.03,525.23 529.11,525.19 529.17,525.14 529.24,525.00 529.30,524.70 529.37,524.17 529.43,523.46 529.48,522.65 529.53,521.86 529.57,521.17 529.60,520.70" fill="#c83e41" stroke="#1a1a1a" stroke-width="1.1" stroke-linejoin="round"/>
<line x1="522.53" y1="535.70" x2="536.67" y2="535.70" stroke="#1a1a1a" stroke-width="0.7" stroke-dasharray="0.9,0.9"/>
<line x1="522.67" y1="539.10" x2="536.53" y2="539.10" stroke="#1a1a1a" stroke-width="0.9" stroke-dasharray="1.6,1"/>
<line x1="526.05" y1="545.70" x2="533.15" y2="545.70" stroke="#1a1a1a" stroke-width="0.7" stroke-dasharray="0.9,0.9"/>
<line x1="557.60" y1="511.70" x2="557.60" y2="551.50" stroke="#111" stroke-width="1.1" />
<polygon points="557.60,514.60 557.70,514.75 557.83,514.96 558.00,515.21 558.17,515.48 558.33,515.75 558.48,516.00 558.63,516.23 558.79,516.47 558.94,516.70 559.07,516.93 559.17,517.17 559.20,517.40 559.17,517.63 559.07,517.87 558.94,518.10 558.79,518.33 558.63,518.57 558.48,518.80 558.33,519.05 558.17,519.32 558.00,519.59 557.83,519.84 557.70,520.05 557.60,520.20 557.60,520.20 557.50,520.05 557.37,519.84 557.21,519.59 557.03,519.32 556.87,519.05 556.72,518.80 556.57,518.57 556.41,518.33 556.26,518.10 556.13,517.87 556.03,517.63 556.00,517.40 556.03,517.17 556.13,516.93 556.26,516.70 556.41,516.47 556.57,516.23 556.72,516.00 556.87,515.75 557.03,515.48 557.21,515.21 557.37,514.96 557.50,514.75 557.60,514.60" fill="#0b6fb3" stroke="#1a1a1a" stroke-width="1.1" stroke-linejoin="round"/>
<polygon points="557.60,542.70 557.70,542.85 557.83,543.05 558.00,543.29 558.17,543.55 558.33,543.81 558.48,544.05 558.63,544.27 558.79,544.50 558.94,544.72 559.07,544.95 559.17,545.17 559.20,545.40 559.17,545.62 559.07,545.85 558.94,546.08 558.79,546.30 558.63,546.52 558.48,546.75 558.33,546.99 558.17,547.25 558.00,547.51 557.83,547.75 557.70,547.95 557.60,548.10 557.60,548.10 557.50,547.95 557.37,547.75 557.21,547.51 557.03,547.25 556.87,546.99 556.72,546.75 556.57,546.52 556.41,546.30 556.26,546.08 556.13,545.85 556.03,545.62 556.00,545.40 556.03,545.17 556.13,544.95 556.26,544.72 556.41,544.50 556.57,544.27 556.72,544.05 556.87,543.81 557.03,543.55 557.21,543.29 557.37,543.05 557.50,542.85 557.60,542.70" fill="#0b6fb3" stroke="#1a1a1a" stroke-width="1.1" stroke-linejoin="round"/>
<polygon points="557.60,550.80 557.66,550.87 557.72,550.96 557.81,551.07 557.92,551.21 558.08,551.39 558.30,551.60 558.57,551.85 558.90,552.12 559.26,552.43 559.67,552.77 560.12,553.16 560.60,553.60 561.15,554.11 561.78,554.68 562.44,555.29 563.11,555.93 563.74,556.58 564.30,557.20 564.84,557.81 565.42,558.43 565.96,559.05 566.39,559.67 566.66,560.29 566.70,560.90 566.45,561.51 565.95,562.13 565.28,562.74 564.53,563.34 563.78,563.93 563.10,564.50 562.46,565.06 561.78,565.62 561.10,566.16 560.45,566.68 559.87,567.16 559.40,567.60 559.04,567.98 558.76,568.32 558.54,568.63 558.39,568.90 558.28,569.16 558.20,569.40 558.17,569.61 558.20,569.79 558.27,569.94 558.38,570.10 558.49,570.28 558.60,570.50 558.71,570.76 558.84,571.03 558.99,571.33 559.13,571.66 559.27,572.01 559.40,572.40 559.52,572.85 559.65,573.36 559.77,573.90 559.88,574.44 559.96,574.95 560.00,575.40 560.01,575.79 560.00,576.15 559.96,576.48 559.89,576.78 559.77,577.05 559.60,577.30 559.34,577.52 558.98,577.71 558.58,577.87 558.18,578.00 557.84,578.11 557.60,578.20 557.60,578.20 557.36,578.11 557.02,578.00 556.62,577.87 556.22,577.71 555.86,577.52 555.60,577.30 555.43,577.05 555.31,576.78 555.24,576.48 555.20,576.15 555.19,575.79 555.20,575.40 555.24,574.95 555.32,574.44 555.43,573.90 555.55,573.36 555.68,572.85 555.80,572.40 555.93,572.01 556.07,571.66 556.21,571.33 556.36,571.03 556.49,570.76 556.60,570.50 556.71,570.28 556.82,570.10 556.93,569.94 557.00,569.79 557.03,569.61 557.00,569.40 556.92,569.16 556.81,568.90 556.66,568.63 556.44,568.32 556.16,567.98 555.80,567.60 555.33,567.16 554.75,566.68 554.10,566.16 553.42,565.62 552.74,565.06 552.10,564.50 551.42,563.93 550.67,563.34 549.92,562.74 549.25,562.13 548.75,561.51 548.50,560.90 548.54,560.29 548.81,559.67 549.24,559.05 549.78,558.43 550.36,557.81 550.90,557.20 551.46,556.58 552.09,555.93 552.76,555.29 553.42,554.68 554.05,554.11 554.60,553.60 555.08,553.16 555.53,552.77 555.94,552.43 556.30,552.12 556.63,551.85 556.90,551.60 557.12,551.39 557.28,551.21 557.39,551.07 557.48,550.96 557.54,550.87 557.60,550.80" fill="#0b6fb3" stroke="#1a1a1a" stroke-width="1.1" stroke-linejoin="round"/>
<line x1="551.23" y1="557.50" x2="563.97" y2="557.50" stroke="#1a1a1a" stroke-width="0.7" stroke-dasharray="0.9,0.9"/>
<line x1="549.10" y1="560.90" x2="566.10" y2="560.90" stroke="#1a1a1a" stroke-width="0.9" stroke-dasharray="1.6,1"/>
<line x1="551.99" y1="563.90" x2="563.21" y2="563.90" stroke="#1a1a1a" stroke-width="0.7" stroke-dasharray="0.9,0.9"/>
<polygon points="585.40,549.10 585.43,549.37 585.48,549.76 585.53,550.21 585.59,550.68 585.65,551.12 585.70,551.50 585.74,551.80 585.76,552.05 585.79,552.28 585.83,552.50 585.89,552.74 586.00,553.00 586.16,553.29 586.36,553.58 586.59,553.88 586.83,554.20 587.07,554.54 587.30,554.90 587.52,555.28 587.76,555.67 587.99,556.08 588.21,556.51 588.42,556.98 588.60,557.50 588.74,558.08 588.84,558.73 588.93,559.41 589.02,560.10 589.14,560.78 589.30,561.40 589.51,561.98 589.74,562.54 590.00,563.08 590.28,563.60 590.58,564.11 590.90,564.60 591.25,565.08 591.65,565.53 592.07,565.98 592.48,566.40 592.87,566.81 593.20,567.20 593.52,567.56 593.85,567.89 594.16,568.20 594.39,568.51 594.52,568.84 594.50,569.20 594.28,569.60 593.89,570.03 593.38,570.47 592.84,570.92 592.32,571.37 591.90,571.80 591.55,572.22 591.22,572.64 590.92,573.05 590.66,573.46 590.45,573.88 590.30,574.30 590.24,574.74 590.26,575.21 590.34,575.69 590.44,576.14 590.53,576.55 590.60,576.90 590.70,577.18 590.88,577.40 591.06,577.59 591.15,577.74 591.09,577.87 590.80,578.00 590.16,578.11 589.21,578.20 588.11,578.27 587.01,578.32 586.05,578.36 585.40,578.40 585.40,578.40 584.75,578.36 583.79,578.32 582.69,578.27 581.59,578.20 580.64,578.11 580.00,578.00 579.71,577.87 579.65,577.74 579.74,577.59 579.92,577.40 580.10,577.18 580.20,576.90 580.27,576.55 580.36,576.14 580.46,575.69 580.54,575.21 580.56,574.74 580.50,574.30 580.35,573.88 580.14,573.46 579.88,573.05 579.58,572.64 579.25,572.22 578.90,571.80 578.48,571.37 577.96,570.92 577.42,570.47 576.91,570.03 576.52,569.60 576.30,569.20 576.28,568.84 576.41,568.51 576.64,568.20 576.95,567.89 577.28,567.56 577.60,567.20 577.93,566.81 578.32,566.40 578.73,565.98 579.15,565.53 579.55,565.08 579.90,564.60 580.22,564.11 580.52,563.60 580.80,563.08 581.06,562.54 581.29,561.98 581.50,561.40 581.66,560.78 581.78,560.10 581.87,559.41 581.96,558.73 582.06,558.08 582.20,557.50 582.38,556.98 582.59,556.51 582.81,556.08 583.04,555.67 583.28,555.28 583.50,554.90 583.73,554.54 583.97,554.20 584.21,553.88 584.44,553.58 584.64,553.29 584.80,553.00 584.91,552.74 584.97,552.50 585.01,552.28 585.04,552.05 585.06,551.80 585.10,551.50 585.15,551.12 585.21,550.68 585.27,550.21 585.32,549.76 585.37,549.37 585.40,549.10" fill="#c83e41" stroke="#1a1a1a" stroke-width="1.1" stroke-linejoin="round"/>
<line x1="581.06" y1="563.70" x2="589.74" y2="563.70" stroke="#1a1a1a" stroke-width="0.7" stroke-dasharray="0.9,0.9"/>
<line x1="577.06" y1="569.50" x2="593.74" y2="569.50" stroke="#1a1a1a" stroke-width="0.9" stroke-dasharray="1.6,1"/>
<line x1="581.09" y1="575.50" x2="589.71" y2="575.50" stroke="#1a1a1a" stroke-width="0.7" stroke-dasharray="0.9,0.9"/>
<polygon points="613.60,483.20 613.63,483.87 613.66,484.82 613.70,485.94 613.75,487.10 613.82,488.19 613.90,489.10 614.01,489.80 614.14,490.38 614.28,490.89 614.43,491.38 614.57,491.90 614.70,492.50 614.81,493.17 614.90,493.87 614.98,494.61 615.07,495.37 615.17,496.17 615.30,497.00 615.45,497.89 615.63,498.85 615.81,499.84 616.01,500.84 616.21,501.80 616.40,502.70 616.62,503.54 616.88,504.36 617.14,505.14 617.37,505.90 617.54,506.62 617.60,507.30 617.53,507.94 617.35,508.52 617.11,509.07 616.84,509.61 616.59,510.15 616.40,510.70 616.25,511.25 616.10,511.79 615.97,512.33 615.88,512.89 615.85,513.47 615.90,514.10 616.04,514.79 616.24,515.51 616.51,516.28 616.83,517.05 617.19,517.83 617.60,518.60 618.09,519.36 618.67,520.13 619.30,520.90 619.93,521.67 620.51,522.44 621.00,523.20 621.43,523.95 621.86,524.70 622.24,525.45 622.53,526.20 622.70,526.95 622.70,527.70 622.50,528.46 622.13,529.23 621.62,530.00 621.05,530.77 620.46,531.54 619.90,532.30 619.34,533.07 618.74,533.85 618.11,534.62 617.50,535.39 616.92,536.11 616.40,536.80 615.94,537.45 615.50,538.07 615.10,538.67 614.74,539.23 614.44,539.74 614.20,540.20 614.04,540.56 613.96,540.80 613.93,541.00 613.93,541.22 613.93,541.53 613.90,542.00 613.85,542.71 613.79,543.61 613.73,544.61 613.68,545.59 613.63,546.42 613.60,547.00 613.60,547.00 613.57,546.42 613.52,545.59 613.47,544.61 613.41,543.61 613.35,542.71 613.30,542.00 613.27,541.53 613.27,541.22 613.27,541.00 613.24,540.80 613.16,540.56 613.00,540.20 612.76,539.74 612.46,539.23 612.10,538.67 611.70,538.07 611.26,537.45 610.80,536.80 610.28,536.11 609.70,535.39 609.09,534.62 608.46,533.85 607.86,533.07 607.30,532.30 606.74,531.54 606.15,530.77 605.58,530.00 605.07,529.23 604.70,528.46 604.50,527.70 604.50,526.95 604.67,526.20 604.96,525.45 605.34,524.70 605.77,523.95 606.20,523.20 606.69,522.44 607.27,521.67 607.90,520.90 608.53,520.13 609.11,519.36 609.60,518.60 610.01,517.83 610.37,517.05 610.69,516.28 610.96,515.51 611.16,514.79 611.30,514.10 611.35,513.47 611.32,512.89 611.23,512.33 611.10,511.79 610.95,511.25 610.80,510.70 610.61,510.15 610.36,509.61 610.09,509.07 609.85,508.52 609.67,507.94 609.60,507.30 609.66,506.62 609.83,505.90 610.06,505.14 610.32,504.36 610.58,503.54 610.80,502.70 610.99,501.80 611.19,500.84 611.39,499.84 611.57,498.85 611.75,497.89 611.90,497.00 612.03,496.17 612.13,495.37 612.22,494.61 612.30,493.87 612.39,493.17 612.50,492.50 612.63,491.90 612.77,491.38 612.92,490.89 613.06,490.38 613.19,489.80 613.30,489.10 613.38,488.19 613.45,487.10 613.50,485.94 613.54,484.82 613.57,483.87 613.60,483.20" fill="#0b6fb3" stroke="#1a1a1a" stroke-width="1.1" stroke-linejoin="round"/>
<line x1="610.81" y1="509.30" x2="616.39" y2="509.30" stroke="#1a1a1a" stroke-width="0.7" stroke-dasharray="0.9,0.9"/>
<line x1="605.22" y1="526.40" x2="621.98" y2="526.40" stroke="#1a1a1a" stroke-width="0.9" stroke-dasharray="1.6,1"/>
<line x1="605.78" y1="529.40" x2="621.42" y2="529.40" stroke="#1a1a1a" stroke-width="0.7" stroke-dasharray="0.9,0.9"/>
<polygon points="641.70,514.30 641.73,514.59 641.78,515.00 641.83,515.48 641.89,516.00 641.95,516.52 642.00,517.00 642.03,517.44 642.05,517.88 642.06,518.32 642.10,518.76 642.17,519.22 642.30,519.70 642.51,520.19 642.77,520.69 643.08,521.21 643.40,521.74 643.72,522.30 644.00,522.90 644.24,523.54 644.46,524.23 644.68,524.94 644.89,525.66 645.13,526.39 645.40,527.10 645.70,527.79 646.02,528.46 646.36,529.13 646.72,529.82 647.10,530.54 647.50,531.30 648.00,532.13 648.63,533.03 649.28,533.95 649.84,534.87 650.21,535.77 650.30,536.60 650.01,537.38 649.41,538.12 648.62,538.84 647.77,539.52 646.99,540.18 646.40,540.80 645.97,541.38 645.59,541.91 645.28,542.41 645.04,542.90 644.91,543.39 644.90,543.90 645.05,544.43 645.37,544.96 645.78,545.49 646.23,546.03 646.66,546.57 647.00,547.10 647.30,547.62 647.61,548.13 647.91,548.64 648.13,549.16 648.24,549.71 648.20,550.30 647.97,550.95 647.57,551.67 647.06,552.41 646.49,553.14 645.92,553.85 645.40,554.50 644.89,555.10 644.35,555.68 643.81,556.23 643.29,556.73 642.85,557.19 642.50,557.60 642.28,557.90 642.15,558.08 642.09,558.22 642.06,558.37 642.04,558.61 642.00,559.00 641.93,559.61 641.87,560.41 641.82,561.29 641.77,562.15 641.73,562.89 641.70,563.40 641.70,563.40 641.67,562.89 641.63,562.15 641.58,561.29 641.53,560.41 641.47,559.61 641.40,559.00 641.36,558.61 641.34,558.37 641.31,558.22 641.25,558.08 641.12,557.90 640.90,557.60 640.55,557.19 640.11,556.73 639.59,556.23 639.05,555.68 638.51,555.10 638.00,554.50 637.48,553.85 636.91,553.14 636.34,552.41 635.83,551.67 635.43,550.95 635.20,550.30 635.16,549.71 635.27,549.16 635.49,548.64 635.79,548.13 636.10,547.62 636.40,547.10 636.74,546.57 637.17,546.03 637.62,545.49 638.03,544.96 638.35,544.43 638.50,543.90 638.49,543.39 638.36,542.90 638.12,542.41 637.81,541.91 637.43,541.38 637.00,540.80 636.41,540.18 635.63,539.52 634.78,538.84 633.99,538.12 633.39,537.38 633.10,536.60 633.19,535.77 633.56,534.87 634.12,533.95 634.77,533.03 635.40,532.13 635.90,531.30 636.30,530.54 636.68,529.82 637.04,529.13 637.38,528.46 637.70,527.79 638.00,527.10 638.27,526.39 638.51,525.66 638.73,524.94 638.94,524.23 639.16,523.54 639.40,522.90 639.68,522.30 640.00,521.74 640.32,521.21 640.63,520.69 640.89,520.19 641.10,519.70 641.23,519.22 641.30,518.76 641.34,518.32 641.35,517.88 641.37,517.44 641.40,517.00 641.45,516.52 641.51,516.00 641.57,515.48 641.62,515.00 641.67,514.59 641.70,514.30" fill="#c83e41" stroke="#1a1a1a" stroke-width="1.1" stroke-linejoin="round"/>
<line x1="635.67" y1="532.60" x2="647.73" y2="532.60" stroke="#1a1a1a" stroke-width="0.7" stroke-dasharray="0.9,0.9"/>
<line x1="634.68" y1="538.20" x2="648.72" y2="538.20" stroke="#1a1a1a" stroke-width="0.9" stroke-dasharray="1.6,1"/>
<line x1="635.87" y1="550.50" x2="647.53" y2="550.50" stroke="#1a1a1a" stroke-width="0.7" stroke-dasharray="0.9,0.9"/>
<rect x="381.45" y="510.55" width="16.20" height="10.2" fill="#fff" stroke="#444" stroke-width="0.8"/>
<text x="389.55" y="518.06" font-size="7" text-anchor="middle" fill="#222" stroke="#222" stroke-width="0" >17.7</text>
<rect x="409.00" y="480.05" width="16.20" height="10.2" fill="#fff" stroke="#444" stroke-width="0.8"/>
<text x="417.10" y="487.56" font-size="7" text-anchor="middle" fill="#222" stroke="#222" stroke-width="0" >18.2</text>
<rect x="438.10" y="512.10" width="13.20" height="10.2" fill="#fff" stroke="#444" stroke-width="0.8"/>
<text x="444.70" y="519.61" font-size="7" text-anchor="middle" fill="#222" stroke="#222" stroke-width="0" >5.7</text>
<rect x="466.75" y="522.35" width="13.20" height="10.2" fill="#fff" stroke="#444" stroke-width="0.8"/>
<text x="473.35" y="529.86" font-size="7" text-anchor="middle" fill="#222" stroke="#222" stroke-width="0" >4.4</text>
<rect x="493.30" y="500.30" width="16.20" height="10.2" fill="#fff" stroke="#444" stroke-width="0.8"/>
<text x="501.40" y="507.81" font-size="7" text-anchor="middle" fill="#222" stroke="#222" stroke-width="0" >25.6</text>
<rect x="521.50" y="507.10" width="16.20" height="10.2" fill="#fff" stroke="#444" stroke-width="0.8"/>
<text x="529.60" y="514.61" font-size="7" text-anchor="middle" fill="#222" stroke="#222" stroke-width="0" >20.9</text>
<rect x="549.85" y="498.60" width="16.20" height="10.2" fill="#fff" stroke="#444" stroke-width="0.8"/>
<text x="557.95" y="506.11" font-size="7" text-anchor="middle" fill="#222" stroke="#222" stroke-width="0" >10.8</text>
<rect x="578.75" y="536.25" width="13.20" height="10.2" fill="#fff" stroke="#444" stroke-width="0.8"/>
<text x="585.35" y="543.76" font-size="7" text-anchor="middle" fill="#222" stroke="#222" stroke-width="0" >5.1</text>
<rect x="605.30" y="469.25" width="16.20" height="10.2" fill="#fff" stroke="#444" stroke-width="0.8"/>
<text x="613.40" y="476.76" font-size="7" text-anchor="middle" fill="#222" stroke="#222" stroke-width="0" >31.2</text>
<rect x="633.80" y="499.95" width="16.20" height="10.2" fill="#fff" stroke="#444" stroke-width="0.8"/>
<text x="641.90" y="507.46" font-size="7" text-anchor="middle" fill="#222" stroke="#222" stroke-width="0" >21.3</text>
<g transform="translate(343.40,485.00) rotate(-90)">
<text x="0" y="2.03" font-size="7.7" text-anchor="middle" fill="#0a0a0a" stroke="#0a0a0a" stroke-width="0.07">Plasma nivolumab (μg ml<tspan font-size="5.5" dy="-2.6">−1</tspan><tspan dy="2.6">)</tspan></text>
</g>
<rect x="652.30" y="400.00" width="6.40" height="5.00" fill="#0b6fb3" stroke="#222" stroke-width="0.6"/>
<text x="663.40" y="405.18" font-size="7.8" text-anchor="start" fill="#0a0a0a" stroke="#0a0a0a" stroke-width="0.07" >IT arm</text>
<rect x="652.30" y="419.00" width="6.40" height="5.00" fill="#c83e41" stroke="#222" stroke-width="0.6"/>
<text x="663.40" y="424.18" font-size="7.8" text-anchor="start" fill="#0a0a0a" stroke="#0a0a0a" stroke-width="0.07" >IV arm</text>
<text transform="translate(57.36,589.80) rotate(-45)" font-size="7.7" text-anchor="end" fill="#0a0a0a" stroke="#0a0a0a" stroke-width="0.07">Post C1D1</text>
<text transform="translate(85.44,589.80) rotate(-45)" font-size="7.7" text-anchor="end" fill="#0a0a0a" stroke="#0a0a0a" stroke-width="0.07">Post C1D1</text>
<text transform="translate(113.53,589.80) rotate(-45)" font-size="7.7" text-anchor="end" fill="#0a0a0a" stroke="#0a0a0a" stroke-width="0.07">Pre C2D1</text>
<text transform="translate(141.61,589.80) rotate(-45)" font-size="7.7" text-anchor="end" fill="#0a0a0a" stroke="#0a0a0a" stroke-width="0.07">Pre C2D1</text>
<text transform="translate(169.69,589.80) rotate(-45)" font-size="7.7" text-anchor="end" fill="#0a0a0a" stroke="#0a0a0a" stroke-width="0.07">Post C2D1</text>
<text transform="translate(197.77,589.80) rotate(-45)" font-size="7.7" text-anchor="end" fill="#0a0a0a" stroke="#0a0a0a" stroke-width="0.07">Post C2D1</text>
<text transform="translate(225.86,589.80) rotate(-45)" font-size="7.7" text-anchor="end" fill="#0a0a0a" stroke="#0a0a0a" stroke-width="0.07">Pre C4D1</text>
<text transform="translate(253.94,589.80) rotate(-45)" font-size="7.7" text-anchor="end" fill="#0a0a0a" stroke="#0a0a0a" stroke-width="0.07">Pre C4D1</text>
<text transform="translate(282.02,589.80) rotate(-45)" font-size="7.7" text-anchor="end" fill="#0a0a0a" stroke="#0a0a0a" stroke-width="0.07">Post C4D1</text>
<text transform="translate(310.11,589.80) rotate(-45)" font-size="7.7" text-anchor="end" fill="#0a0a0a" stroke="#0a0a0a" stroke-width="0.07">Post C4D1</text>
<text transform="translate(393.77,589.80) rotate(-45)" font-size="7.7" text-anchor="end" fill="#0a0a0a" stroke="#0a0a0a" stroke-width="0.07">Post C1D1</text>
<text transform="translate(421.80,589.80) rotate(-45)" font-size="7.7" text-anchor="end" fill="#0a0a0a" stroke="#0a0a0a" stroke-width="0.07">Post C1D1</text>
<text transform="translate(449.83,589.80) rotate(-45)" font-size="7.7" text-anchor="end" fill="#0a0a0a" stroke="#0a0a0a" stroke-width="0.07">Pre C2D1</text>
<text transform="translate(477.87,589.80) rotate(-45)" font-size="7.7" text-anchor="end" fill="#0a0a0a" stroke="#0a0a0a" stroke-width="0.07">Pre C2D1</text>
<text transform="translate(505.90,589.80) rotate(-45)" font-size="7.7" text-anchor="end" fill="#0a0a0a" stroke="#0a0a0a" stroke-width="0.07">Post C2D1</text>
<text transform="translate(533.93,589.80) rotate(-45)" font-size="7.7" text-anchor="end" fill="#0a0a0a" stroke="#0a0a0a" stroke-width="0.07">Post C2D1</text>
<text transform="translate(561.96,589.80) rotate(-45)" font-size="7.7" text-anchor="end" fill="#0a0a0a" stroke="#0a0a0a" stroke-width="0.07">Pre C4D1</text>
<text transform="translate(589.99,589.80) rotate(-45)" font-size="7.7" text-anchor="end" fill="#0a0a0a" stroke="#0a0a0a" stroke-width="0.07">Pre C4D1</text>
<text transform="translate(618.03,589.80) rotate(-45)" font-size="7.7" text-anchor="end" fill="#0a0a0a" stroke="#0a0a0a" stroke-width="0.07">Post C4D1</text>
<text transform="translate(646.06,589.80) rotate(-45)" font-size="7.7" text-anchor="end" fill="#0a0a0a" stroke="#0a0a0a" stroke-width="0.07">Post C4D1</text>
</svg>
</body></html>
